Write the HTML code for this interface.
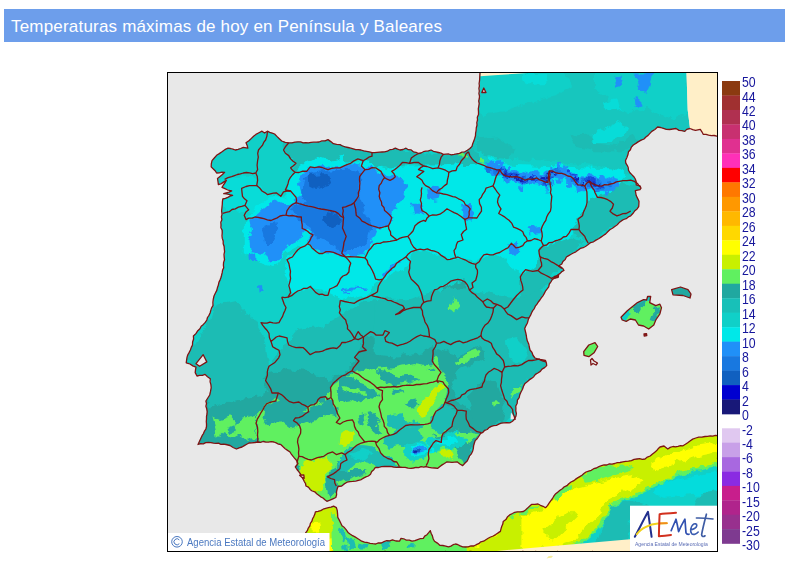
<!DOCTYPE html>
<html><head><meta charset="utf-8"><title>Temperaturas máximas</title>
<style>
html,body{margin:0;padding:0;background:#fff;}
body{width:785px;height:566px;position:relative;overflow:hidden;font-family:"Liberation Sans",sans-serif;}
.hd{position:absolute;left:4px;top:9px;width:781px;height:33px;background:#6D9EEB;color:#fff;font-size:17px;line-height:33px;}
.hd span{position:absolute;left:7px;top:0.5px;white-space:nowrap;letter-spacing:0.19px;}
.lb{position:absolute;left:742.2px;font-size:15px;line-height:16px;height:16px;color:#16169C;white-space:nowrap;transform-origin:0 50%;transform:scaleX(0.82);}
.cp{position:absolute;left:187.3px;top:534.5px;font-size:10.5px;line-height:14px;color:#4A78C0;white-space:nowrap;transform-origin:0 50%;transform:scaleX(0.909);}
.lg{position:absolute;left:634.5px;top:539.5px;font-size:6px;line-height:8px;color:#5A6CB4;white-space:nowrap;transform-origin:0 50%;transform:scaleX(0.84);}
</style></head><body>
<div class="hd"><span>Temperaturas máximas de hoy en Península y Baleares</span></div>
<svg width="785" height="566" viewBox="0 0 785 566" style="position:absolute;left:0;top:0">
<defs>
<clipPath id="cm"><rect x="167.5" y="72.5" width="550" height="479"/></clipPath>
<clipPath id="cib"><polygon points="211.2,166.9 212,160.7 216.6,155.3 222,151.8 228,148.2 235.3,150 243.3,147.3 247.8,148.2 246,142.8 251.4,138.4 258.5,133 262,131.2 264.5,133 267.4,131.2 274.6,134 281.7,141 288.8,142.8 298,141.8 308.4,142.8 319,142 328,139.6 333.4,143.7 340,144.6 350.7,148.2 361,150 372,152.6 384.6,151.8 395.3,148.2 400,150 406,148.2 418.5,153.5 431,150 443.4,154.4 454,154.4 464.8,151.8 472,146.4 475.5,135.7 477.5,120 478.8,106 479.8,76 480,72.5 686.5,72.5 687.7,110 690,128.5 686.7,129.4 684.8,131.4 679,130.4 676,128.5 666.3,129.4 657.6,127 651.8,131.4 644,139 633.3,145 628.5,151.8 625.5,160.5 628.5,170.2 635.3,179 636.2,184.8 640,185.8 641,188.2 640,189.6 635.3,190.6 636.2,195.5 639,201.3 638.7,206.6 633.3,213 630.7,215.8 619.2,222.6 607.7,231.8 598.6,238.7 588.2,244.5 577.9,250.2 566.4,257 561.8,264 558.6,266 563,268.7 564,270.5 557.7,275 552.4,279.4 547,289.2 539.9,300 532.7,310.6 528.3,319.6 524.7,328.5 527.4,341 530,350 535,358 545.5,360.5 546.7,365.6 537.8,373 525,383.4 521,392 515.8,406 516,416 514.5,419 510,422.8 503.8,422.8 491.3,426.4 480.6,433.5 475.2,440.6 472.6,451.3 467.2,461 462.7,465.6 457.4,462 446.7,462 437.8,468.3 426.2,466.5 411,468.3 399.4,467 387.8,466.5 375.4,467.4 373.8,469.7 368.4,476 361.3,479.5 347,482.2 341.7,486 338,486.5 336.5,492 335.8,497.5 326.9,501.3 316.7,493.7 306,486 304.2,481.3 300.6,474.2 295.3,467 298,463.5 296.2,460 290,452 281,444.7 273.9,442 257.8,442 249,443 242,447 236.4,449 230,445.5 226,444.5 208.4,442.5 198,444.5 201,438 205.9,429 207,414 205.9,401 209.7,395 211.2,387.7 210.3,378.8 205,374.4 197,376 195.2,372.6 196,367.2 190,364 186.2,362.8 187,357.4 192.5,345 193.4,336 197.8,330.7 206.8,320 213,305.7 214,296 217.5,287.4 223.7,267.8 224.6,251.7 221,225 222,214.3 222,207 222.8,199 232.6,195.4 223.7,193.7 231.7,191 222,187.4 226.4,180.3 218.4,184.7 217.5,178.5 224.6,172.3 216.6,173"/><polygon points="621,317.3 627.3,310.8 637.5,302.6 643.6,299.6 646.6,300 647.6,296.5 650.7,296.5 649.7,302.6 655.8,305.7 659.9,304.2 661.5,307.7 659.9,313.8 655.8,320 653.8,325 648.7,329 643.6,326 638.5,325 635.4,320 630.3,319 626.2,321.4 622.2,320"/><polygon points="671.6,289.7 680.5,287 688,289.7 691,294 690,298 683,295.5 673,294.8"/><polygon points="583.7,351.6 588.8,345 595,342.6 597.7,346.5 594,352.8 588.8,356.7 584,355.4"/></clipPath>
<clipPath id="caf"><polygon points="315.4,511.8 333.6,506.2 336.4,507.6 337.8,517.4 342,525.8 350.4,534.2 361.7,541.2 375.7,544 392.5,539.8 399.5,541.2 401,538.4 412,541.2 423.3,538.4 430.3,530.6 434.5,541.2 440,545.4 448.5,546.8 455.5,544 462.6,546.8 473.8,546 490.6,537 500.4,531.4 503.2,521.6 510.2,514.6 517.2,511.8 523.4,511.5 531.5,504.4 538,504 545.5,507.7 555.7,493.7 571,482 586,472 601.5,465.7 620,462.5 637,459 645,459 652.5,454 660,447 664,446 667.8,449 673,446.5 683,445.8 690,441 695.8,438 705,436.5 718,435.6 718,552 305,552 305.6,532.8 309.8,525.8"/></clipPath>
<filter id="jg" x="150" y="55" width="590" height="515" filterUnits="userSpaceOnUse" color-interpolation-filters="sRGB"><feTurbulence type="fractalNoise" baseFrequency="0.11" numOctaves="3" seed="4" result="n"/><feDisplacementMap in="SourceGraphic" in2="n" scale="9" xChannelSelector="R" yChannelSelector="G"/></filter>
</defs>
<rect x="167" y="72" width="551" height="480" fill="#E8E8E8"/>
<g clip-path="url(#cm)">
<g clip-path="url(#cib)"><g filter="url(#jg)">
<rect x="140" y="45" width="610" height="540" fill="#10D0C8"/>
<polygon points="465,72 718,72 718,175 640,180 600,165 520,160 465,150" fill="#17C6BE" />
<polygon points="479.6,70 562.5,70 572.2,86.2 556,96 530,102.5 504,112.2 484.5,115.5 478,109" fill="#10D0C8" />
<polygon points="520.2,73.9 549.5,73.9 546.2,83 526.7,84.6" fill="#08DCD8" />
<polygon points="595,70 685.9,70 690.8,112.2 672.9,118.7 646.9,109 627.4,112.2 611.2,102.5 595,89.5" fill="#10D0C8" />
<polygon points="591.7,135 604.7,128.5 617.7,122 627.4,126.9 624.2,135 611.2,143.1 595,143.1" fill="#08DCD8" />
<polygon points="601.5,102.5 617.7,99.2 620.9,109 607.9,112.2" fill="#08DCD8" />
<polygon points="569,135 588.5,133.4 595,143.1 614.4,146.3 633.9,135 640.4,144.7 620.9,151.2 595,151.2 575.5,146.3" fill="#1CBCB4" />
<polygon points="478,138.2 497.5,136.6 513.7,148 510.5,159.3 491,157.7 478,151.2" fill="#1CBCB4" />
<polygon points="614.4,78.1 622.6,76.5 624.2,84.6 617.7,86.2" fill="#2090F8" />
<polygon points="632.3,72.6 653.4,72.6 650.2,81.4 646.9,92.7 638.8,89.5 640.4,81.4" fill="#2090F8" />
<polygon points="633.9,99.2 640.4,97.6 640.4,105.7 634.6,105.7" fill="#2090F8" />
<polygon points="284,141 305,141 328,139 345,144 373,152 395,148 419,153 449,154.5 472,146 480,160 470,168 452,171 440,168 424,166 411,162 399,166 385,168 363,166 358,159 340,166 328,169 319,166 310,166 306,171 296,172 291,166 296,163 290,158 283,150" fill="#1CBCB4" />
<polygon points="294.2,171.4 304.9,160.7 319.1,157.1 329.8,160.7 345,155.3 345,167.8 328.1,171.4 312,169.6 304.9,174.9 299.5,183.9 290.6,191 287,185.6" fill="#00E8E8" />
<polygon points="222.8,178.5 240.7,174.9 256.7,176.7 258.5,185.6 267.4,194.6 279.9,196.3 294.2,192.8 301.3,199.9 294.2,203.5 283.5,207 269.2,199.9 263.9,205.3 254.9,210.6 246,214.2 237.1,210.6 226.4,210.6 221.9,203.5" fill="#08DCD8" />
<polygon points="387.3,168.7 400,165.5 419.1,165.5 438.2,165.5 463.7,163.9 482.8,163.9 622.9,168.7 622.9,194.1 597.5,203.7 584.7,216.4 578.3,229.2 565.6,238.7 540.1,248.3 536.9,267.4 521,273.8 495.5,254.6 473.2,261 447.8,257.8 425.5,251.5 406.4,248.3 390.4,264.2 377.7,280.1 361.8,283.3 361.8,235.5 371.3,219.6" fill="#00E8E8" />
<polygon points="578.3,219.6 591.1,197.3 603.8,194.1 622.9,181.4 642,187.8 642,203.7 622.9,219.6 603.8,232.4 587.9,245.1 572,229.2" fill="#1CBCB4" />
<polygon points="540.1,248.3 565.6,238.7 584.7,241.9 565.6,257.8 552.9,273.8 540.1,292.9 527.4,319.9 505.1,319.9 521,292.9 521,273.8 536.9,267.4" fill="#1CBCB4" />
<polygon points="489,158.5 493,159.7 499.8,160.8 504.4,166.6 515.9,167.7 525.1,171.2 536.6,168.9 548,173.5 549.2,164 561.8,164.3 571,167.7 577.9,175.8 584.8,176.9 589.4,172.3 598.6,176.9 607.7,175.8 614,174 614,192 607.7,193.8 598.6,194.9 589.4,190.3 584.8,194.9 577.9,193.8 571,185.7 561.8,182.3 549.2,182 548,191.5 536.6,186.9 525.1,189.2 515.9,185.7 504.4,184.6 499.8,178.8 493,177.7 489,176.5" fill="#00E8E8" />
<polygon points="485,167.5 489,161.529 493,163.247 499.8,162.847 504.4,170.383 515.9,170.092 525.1,174.103 536.6,172.726 548,175.978 549.2,167.888 561.8,166.999 571,171.49 577.9,179.528 584.8,179.626 589.4,173.819 598.6,180.529 607.7,179.13 614,176.118 619,183 614,190.791 607.7,191.108 598.6,191.487 589.4,189.205 584.8,190.086 577.9,192.234 571,181.858 561.8,177.877 549.2,177.471 548,187.734 536.6,185.165 525.1,184.923 515.9,183.026 504.4,182.156 499.8,175.29 493,174.891 489,171.751" fill="#2090F8" />
<polygon points="493.5,172 496.8,172 496.8,174.7 493.5,174.7" fill="#2090F8" />
<polygon points="558.7,168.3 563.1,168.3 563.1,171.7 558.7,171.7" fill="#2090F8" />
<polygon points="519.4,177.9 524.1,177.9 524.1,181.4 519.4,181.4" fill="#2090F8" />
<polygon points="529.5,171.3 532.7,171.3 532.7,174.8 529.5,174.8" fill="#2090F8" />
<polygon points="506,165.9 510,165.9 510,169.5 506,169.5" fill="#2090F8" />
<polygon points="560.4,168.6 564.5,168.6 564.5,171.8 560.4,171.8" fill="#2090F8" />
<polygon points="557.6,178.8 562.5,178.8 562.5,181.7 557.6,181.7" fill="#2090F8" />
<polygon points="566.2,179.9 570.2,179.9 570.2,183.9 566.2,183.9" fill="#2090F8" />
<polygon points="585.7,178.6 589.7,178.6 589.7,180.7 585.7,180.7" fill="#2090F8" />
<polygon points="544.7,170.5 546.9,170.5 546.9,174 544.7,174" fill="#2090F8" />
<polygon points="500.5,173 505.1,173 505.1,175.1 500.5,175.1" fill="#2090F8" />
<polygon points="546.4,186.7 550.8,186.7 550.8,190.5 546.4,190.5" fill="#2090F8" />
<polygon points="522.9,175.9 527.5,175.9 527.5,179.8 522.9,179.8" fill="#2090F8" />
<polygon points="504,169.9 506.7,169.9 506.7,172.8 504,172.8" fill="#2090F8" />
<polygon points="558.2,163 561.5,163 561.5,165.7 558.2,165.7" fill="#2090F8" />
<polygon points="560.3,175.7 563.8,175.7 563.8,179 560.3,179" fill="#2090F8" />
<polygon points="567.1,185.1 571.5,185.1 571.5,188.8 567.1,188.8" fill="#2090F8" />
<polygon points="584.9,180.7 587.2,180.7 587.2,184 584.9,184" fill="#2090F8" />
<polygon points="493.1,163.1 495.6,163.1 495.6,165.8 493.1,165.8" fill="#2090F8" />
<polygon points="491.3,161.8 493.6,161.8 493.6,164.5 491.3,164.5" fill="#2090F8" />
<polygon points="494.3,170 496.8,170 496.8,172.5 494.3,172.5" fill="#2090F8" />
<polygon points="532.4,169.4 536.9,169.4 536.9,173.4 532.4,173.4" fill="#2090F8" />
<polygon points="547.2,169.7 549.5,169.7 549.5,172.4 547.2,172.4" fill="#2090F8" />
<polygon points="525.6,171.9 527.6,171.9 527.6,175.8 525.6,175.8" fill="#2090F8" />
<polygon points="549,172.9 551.1,172.9 551.1,175.9 549,175.9" fill="#2090F8" />
<polygon points="612.5,186.7 615.3,186.7 615.3,189.5 612.5,189.5" fill="#2090F8" />
<polygon points="510.3,176 514.6,176 514.6,178.6 510.3,178.6" fill="#2090F8" />
<polygon points="518.5,185.5 523.1,185.5 523.1,189.1 518.5,189.1" fill="#2090F8" />
<polygon points="589.2,175.6 592.7,175.6 592.7,178.3 589.2,178.3" fill="#2090F8" />
<polygon points="487.9,163.3 490.7,163.3 490.7,166.7 487.9,166.7" fill="#2090F8" />
<polygon points="605,191.6 610,191.6 610,195.5 605,195.5" fill="#2090F8" />
<polygon points="534.6,172.6 537.2,172.6 537.2,175 534.6,175" fill="#2090F8" />
<polygon points="568,180.4 571.5,180.4 571.5,183.7 568,183.7" fill="#2090F8" />
<polygon points="581.4,185.4 586.1,185.4 586.1,188.9 581.4,188.9" fill="#2090F8" />
<polygon points="578.5,178.3 582.9,178.3 582.9,181 578.5,181" fill="#2090F8" />
<polygon points="589.4,180.1 592.6,180.1 592.6,183.9 589.4,183.9" fill="#2090F8" />
<polygon points="573.6,175.8 576,175.8 576,179.6 573.6,179.6" fill="#2090F8" />
<polygon points="582.5,187.9 587.5,187.9 587.5,191.3 582.5,191.3" fill="#2090F8" />
<polygon points="535.5,169.5 537.6,169.5 537.6,173.4 535.5,173.4" fill="#2090F8" />
<polygon points="568.6,183.2 571.9,183.2 571.9,187 568.6,187" fill="#2090F8" />
<polygon points="586.2,176.1 589.1,176.1 589.1,178.6 586.2,178.6" fill="#2090F8" />
<polygon points="558.2,170.3 560.6,170.3 560.6,174.2 558.2,174.2" fill="#2090F8" />
<polygon points="534,178.6 538.7,178.6 538.7,181.4 534,181.4" fill="#2090F8" />
<polygon points="600.5,185.5 604.1,185.5 604.1,187.6 600.5,187.6" fill="#2090F8" />
<polygon points="543.3,172 547.7,172 547.7,174.4 543.3,174.4" fill="#2090F8" />
<polygon points="549,177.3 551.9,177.3 551.9,180.4 549,180.4" fill="#2090F8" />
<polygon points="557.3,164.9 561,164.9 561,167.4 557.3,167.4" fill="#2090F8" />
<polygon points="526,179 529.7,179 529.7,182.5 526,182.5" fill="#2090F8" />
<polygon points="599.3,186.7 602.8,186.7 602.8,189.7 599.3,189.7" fill="#2090F8" />
<polygon points="572.3,179.9 575.8,179.9 575.8,183.8 572.3,183.8" fill="#2090F8" />
<polygon points="576.7,188.8 579.4,188.8 579.4,191.9 576.7,191.9" fill="#2090F8" />
<polygon points="607.5,177.2 609.9,177.2 609.9,180.1 607.5,180.1" fill="#2090F8" />
<polygon points="495.3,160.3 499.3,160.3 499.3,163.9 495.3,163.9" fill="#2090F8" />
<polygon points="594.5,189.3 598.5,189.3 598.5,191.6 594.5,191.6" fill="#2090F8" />
<polygon points="598.7,179.1 603.5,179.1 603.5,181.8 598.7,181.8" fill="#2090F8" />
<polygon points="551.6,180.7 554.1,180.7 554.1,183.5 551.6,183.5" fill="#2090F8" />
<polygon points="548.3,166 551.2,166 551.2,169.5 548.3,169.5" fill="#2090F8" />
<polygon points="491.1,166.4 493.2,166.4 493.2,169 491.1,169" fill="#2090F8" />
<polygon points="564.1,165.5 569.1,165.5 569.1,169.1 564.1,169.1" fill="#2090F8" />
<polygon points="605.8,178.4 607.9,178.4 607.9,182 605.8,182" fill="#2090F8" />
<polygon points="519.4,177.3 524.2,177.3 524.2,180.9 519.4,180.9" fill="#2090F8" />
<polygon points="518.5,186.2 522.2,186.2 522.2,189.6 518.5,189.6" fill="#2090F8" />
<polygon points="495.9,174.4 499.1,174.4 499.1,176.5 495.9,176.5" fill="#2090F8" />
<polygon points="605.2,189.5 607.5,189.5 607.5,193.2 605.2,193.2" fill="#2090F8" />
<polygon points="499.9,167.7 502.9,167.7 502.9,170.8 499.9,170.8" fill="#2090F8" />
<polygon points="599.9,177.5 603.5,177.5 603.5,180 599.9,180" fill="#2090F8" />
<polygon points="498.8,164.3 501.4,164.3 501.4,166.9 498.8,166.9" fill="#2090F8" />
<polygon points="530,174.6 533.5,174.6 533.5,177 530,177" fill="#2090F8" />
<polygon points="530.8,172.1 532.9,172.1 532.9,175.6 530.8,175.6" fill="#2090F8" />
<polygon points="551.3,172.1 556.1,172.1 556.1,174.3 551.3,174.3" fill="#2090F8" />
<polygon points="586.4,180.2 590.9,180.2 590.9,183 586.4,183" fill="#1878E0" />
<polygon points="549.3,176 552.4,176 552.4,179.7 549.3,179.7" fill="#1878E0" />
<polygon points="575,180.3 578.1,180.3 578.1,182.4 575,182.4" fill="#1878E0" />
<polygon points="500.9,176.9 503.7,176.9 503.7,179.2 500.9,179.2" fill="#1878E0" />
<polygon points="500.6,173.2 504.6,173.2 504.6,175.8 500.6,175.8" fill="#1878E0" />
<polygon points="518.4,176.7 520.9,176.7 520.9,179.6 518.4,179.6" fill="#1878E0" />
<polygon points="524.7,183.2 528.4,183.2 528.4,185.7 524.7,185.7" fill="#1878E0" />
<polygon points="607,181.6 609,181.6 609,184.3 607,184.3" fill="#1878E0" />
<polygon points="546.9,173.1 550.5,173.1 550.5,175.1 546.9,175.1" fill="#1878E0" />
<polygon points="520.4,177.7 522.5,177.7 522.5,179.8 520.4,179.8" fill="#1878E0" />
<polygon points="526.2,178.4 529.8,178.4 529.8,181.9 526.2,181.9" fill="#1878E0" />
<polygon points="570.8,179.3 574,179.3 574,181.9 570.8,181.9" fill="#1878E0" />
<polygon points="607.8,184.8 611.7,184.8 611.7,186.9 607.8,186.9" fill="#1878E0" />
<polygon points="591.4,181.6 595.6,181.6 595.6,185.3 591.4,185.3" fill="#1878E0" />
<polygon points="504.2,174 508.7,174 508.7,177.6 504.2,177.6" fill="#1878E0" />
<polygon points="588.5,183.8 592.5,183.8 592.5,187.2 588.5,187.2" fill="#1878E0" />
<polygon points="514.9,173.2 517.9,173.2 517.9,175.4 514.9,175.4" fill="#1878E0" />
<polygon points="589.6,181.8 593.5,181.8 593.5,185.2 589.6,185.2" fill="#1878E0" />
<polygon points="543.8,176.5 548.1,176.5 548.1,179.5 543.8,179.5" fill="#1878E0" />
<polygon points="552.7,167.5 556.9,167.5 556.9,170 552.7,170" fill="#1878E0" />
<polygon points="496.9,170.3 499.5,170.3 499.5,173.8 496.9,173.8" fill="#1878E0" />
<polygon points="608.8,181.1 612.3,181.1 612.3,184.5 608.8,184.5" fill="#1878E0" />
<polygon points="582.9,185.9 585.1,185.9 585.1,188.2 582.9,188.2" fill="#1878E0" />
<polygon points="522.1,176.2 525.8,176.2 525.8,178.3 522.1,178.3" fill="#1878E0" />
<polygon points="494.2,169.5 498.3,169.5 498.3,172.8 494.2,172.8" fill="#1878E0" />
<polygon points="526.1,178.2 529.5,178.2 529.5,180.5 526.1,180.5" fill="#1878E0" />
<polygon points="594.6,189.6 599.4,189.6 599.4,191.7 594.6,191.7" fill="#1878E0" />
<polygon points="548.6,182.8 552,182.8 552,185.3 548.6,185.3" fill="#1878E0" />
<polygon points="517.3,172.9 521,172.9 521,175.2 517.3,175.2" fill="#1878E0" />
<polygon points="552.7,167.9 557.2,167.9 557.2,170.9 552.7,170.9" fill="#1878E0" />
<polygon points="596.8,181.4 601.5,181.4 601.5,184.3 596.8,184.3" fill="#1878E0" />
<polygon points="487.8,167.2 491.2,167.2 491.2,169.8 487.8,169.8" fill="#1878E0" />
<polygon points="503.3,173 507.8,173 507.8,175 503.3,175" fill="#1878E0" />
<polygon points="580.6,179.8 585.4,179.8 585.4,183.2 580.6,183.2" fill="#1878E0" />
<polygon points="597.1,182.5 600.3,182.5 600.3,186.5 597.1,186.5" fill="#1878E0" />
<polygon points="559.5,171.5 562.3,171.5 562.3,173.6 559.5,173.6" fill="#1878E0" />
<polygon points="501.8,169.4 506.6,169.4 506.6,171.9 501.8,171.9" fill="#1878E0" />
<polygon points="522.6,174.8 525.7,174.8 525.7,178.7 522.6,178.7" fill="#1878E0" />
<polygon points="597,184.7 601.8,184.7 601.8,188.6 597,188.6" fill="#1878E0" />
<polygon points="555.1,167.2 559.3,167.2 559.3,170.1 555.1,170.1" fill="#1878E0" />
<polygon points="581,181.3 583.2,181.3 583.2,185.1 581,185.1" fill="#1878E0" />
<polygon points="502.9,172.3 505.8,172.3 505.8,175.8 502.9,175.8" fill="#1878E0" />
<polygon points="607.8,184 610.7,184 610.7,187.1 607.8,187.1" fill="#1878E0" />
<polygon points="538.8,174.9 541.5,174.9 541.5,178.7 538.8,178.7" fill="#1878E0" />
<polygon points="544.9,176.5 549.9,176.5 549.9,179.4 544.9,179.4" fill="#1878E0" />
<polygon points="502.9,170.6 506,170.6 506,172.8 502.9,172.8" fill="#1878E0" />
<polygon points="516.7,177.4 521.4,177.4 521.4,180.9 516.7,180.9" fill="#1878E0" />
<polygon points="542.6,180.1 545.7,180.1 545.7,182.7 542.6,182.7" fill="#1878E0" />
<polygon points="495.3,172.7 497.7,172.7 497.7,175.7 495.3,175.7" fill="#1878E0" />
<polygon points="568.1,171.2 570.9,171.2 570.9,173.7 568.1,173.7" fill="#1878E0" />
<polygon points="540.3,183.1 544.8,183.1 544.8,186.8 540.3,186.8" fill="#1878E0" />
<polygon points="486.9,169 491.6,169 491.6,172 486.9,172" fill="#1878E0" />
<polygon points="556.1,170.4 560.9,170.4 560.9,174 556.1,174" fill="#1878E0" />
<polygon points="595.5,179.8 597.8,179.8 597.8,182.1 595.5,182.1" fill="#1878E0" />
<polygon points="551,175.8 555.2,175.8 555.2,179.1 551,179.1" fill="#1878E0" />
<polygon points="581.7,184.3 583.8,184.3 583.8,187.9 581.7,187.9" fill="#1878E0" />
<polygon points="520.6,178.4 523.6,178.4 523.6,180.7 520.6,180.7" fill="#1878E0" />
<polygon points="521.9,180 524.2,180 524.2,182.2 521.9,182.2" fill="#1878E0" />
<polygon points="551.5,170.4 554.1,170.4 554.1,173.6 551.5,173.6" fill="#1878E0" />
<polygon points="486.8,165.9 491.7,165.9 491.7,169.2 486.8,169.2" fill="#1878E0" />
<polygon points="591.1,179.4 593.6,179.4 593.6,182.3 591.1,182.3" fill="#1848D8" />
<polygon points="571.3,175.2 574.3,175.2 574.3,177.7 571.3,177.7" fill="#1848D8" />
<polygon points="543.8,181.9 547.7,181.9 547.7,183.7 543.8,183.7" fill="#1848D8" />
<polygon points="497.9,168.7 501.3,168.7 501.3,170.5 497.9,170.5" fill="#1848D8" />
<polygon points="583.1,184 585.5,184 585.5,186.9 583.1,186.9" fill="#1848D8" />
<polygon points="533.4,175.2 535.8,175.2 535.8,177.9 533.4,177.9" fill="#1848D8" />
<polygon points="531.8,177.8 534.2,177.8 534.2,179.6 531.8,179.6" fill="#1848D8" />
<polygon points="545.9,183.5 548.2,183.5 548.2,185.5 545.9,185.5" fill="#1848D8" />
<polygon points="521.7,175.2 523.8,175.2 523.8,176.8 521.7,176.8" fill="#1848D8" />
<polygon points="543.3,181.4 546.8,181.4 546.8,184.4 543.3,184.4" fill="#1848D8" />
<polygon points="595.5,182 599.3,182 599.3,184.7 595.5,184.7" fill="#1848D8" />
<polygon points="499.3,168.1 502.1,168.1 502.1,170.1 499.3,170.1" fill="#1848D8" />
<polygon points="512.1,173.5 514.8,173.5 514.8,176.4 512.1,176.4" fill="#1848D8" />
<polygon points="510,172.6 512.7,172.6 512.7,175.3 510,175.3" fill="#1848D8" />
<polygon points="584.3,180.4 587.3,180.4 587.3,182.5 584.3,182.5" fill="#1848D8" />
<polygon points="593.5,183 597.3,183 597.3,184.6 593.5,184.6" fill="#1848D8" />
<polygon points="545.8,182.2 547.9,182.2 547.9,183.8 545.8,183.8" fill="#1848D8" />
<polygon points="502.5,170 506,170 506,172.9 502.5,172.9" fill="#1848D8" />
<polygon points="534.3,179.8 537.6,179.8 537.6,181.7 534.3,181.7" fill="#1848D8" />
<polygon points="572.9,177.9 574.9,177.9 574.9,180.6 572.9,180.6" fill="#1848D8" />
<polygon points="595.8,186.5 597.9,186.5 597.9,188.3 595.8,188.3" fill="#1848D8" />
<polygon points="549.2,178.4 551.9,178.4 551.9,180.3 549.2,180.3" fill="#1848D8" />
<polygon points="546.7,183.6 549.1,183.6 549.1,186.4 546.7,186.4" fill="#1848D8" />
<polygon points="576.2,183.7 579.4,183.7 579.4,185.7 576.2,185.7" fill="#1848D8" />
<polygon points="532.7,179 534.9,179 534.9,180.8 532.7,180.8" fill="#1848D8" />
<polygon points="575.7,180.3 577.7,180.3 577.7,182.7 575.7,182.7" fill="#1848D8" />
<polygon points="535.1,179.5 539.1,179.5 539.1,181.4 535.1,181.4" fill="#1848D8" />
<polygon points="501,174.2 504.4,174.2 504.4,176.3 501,176.3" fill="#1848D8" />
<polygon points="521.4,178.8 524.8,178.8 524.8,181.4 521.4,181.4" fill="#1848D8" />
<polygon points="587.2,178.6 590.9,178.6 590.9,180.6 587.2,180.6" fill="#1848D8" />
<polygon points="555.8,173.6 558.2,173.6 558.2,175.4 555.8,175.4" fill="#1848D8" />
<polygon points="521.8,181.3 525,181.3 525,183.3 521.8,183.3" fill="#1848D8" />
<polygon points="544.5,179.2 547,179.2 547,182 544.5,182" fill="#1848D8" />
<polygon points="568.9,171.6 571.9,171.6 571.9,174.3 568.9,174.3" fill="#1848D8" />
<polygon points="588.2,178.8 590.8,178.8 590.8,180.5 588.2,180.5" fill="#1848D8" />
<polygon points="517.9,176.7 521.8,176.7 521.8,178.8 517.9,178.8" fill="#1848D8" />
<polygon points="588.4,178.5 592,178.5 592,181.4 588.4,181.4" fill="#1848D8" />
<polygon points="506.3,175.4 508.7,175.4 508.7,177.4 506.3,177.4" fill="#1848D8" />
<polygon points="509,173.2 512.2,173.2 512.2,175.7 509,175.7" fill="#1848D8" />
<polygon points="516,175.9 519.4,175.9 519.4,177.6 516,177.6" fill="#1848D8" />
<polygon points="530.7,179.4 533.8,179.4 533.8,181 530.7,181" fill="#1848D8" />
<polygon points="504.5,175.1 507.8,175.1 507.8,176.7 504.5,176.7" fill="#1848D8" />
<polygon points="514.2,174.8 516.8,174.8 516.8,176.7 514.2,176.7" fill="#1848D8" />
<polygon points="598.7,184.7 601.5,184.7 601.5,186.9 598.7,186.9" fill="#1848D8" />
<polygon points="591,179.3 593.4,179.3 593.4,181.8 591,181.8" fill="#1848D8" />
<polygon points="519.5,179 521.8,179 521.8,181.3 519.5,181.3" fill="#1420B0" />
<polygon points="546,180.2 547.9,180.2 547.9,181.7 546,181.7" fill="#1420B0" />
<polygon points="554.6,173.2 556.3,173.2 556.3,175.3 554.6,175.3" fill="#1420B0" />
<polygon points="540.7,177.1 542.8,177.1 542.8,179.1 540.7,179.1" fill="#1420B0" />
<polygon points="591.3,181.8 594.4,181.8 594.4,184.3 591.3,184.3" fill="#1420B0" />
<polygon points="518.5,179.1 522,179.1 522,181 518.5,181" fill="#1420B0" />
<polygon points="503.9,173.4 507.2,173.4 507.2,175.5 503.9,175.5" fill="#1420B0" />
<polygon points="582.1,185.5 584.1,185.5 584.1,187.4 582.1,187.4" fill="#1420B0" />
<polygon points="586.2,181.8 588.2,181.8 588.2,183.7 586.2,183.7" fill="#1420B0" />
<polygon points="549.6,169.9 551.6,169.9 551.6,172.1 549.6,172.1" fill="#1420B0" />
<polygon points="588.1,181.1 591.1,181.1 591.1,182.6 588.1,182.6" fill="#1420B0" />
<polygon points="583,184 585.6,184 585.6,186.2 583,186.2" fill="#1420B0" />
<polygon points="532.9,177.1 535.2,177.1 535.2,179.3 532.9,179.3" fill="#1420B0" />
<polygon points="546.8,176.5 549.5,176.5 549.5,178.5 546.8,178.5" fill="#1420B0" />
<polygon points="525.3,179.8 527.8,179.8 527.8,181.5 525.3,181.5" fill="#1420B0" />
<polygon points="546.4,173.9 548.7,173.9 548.7,175.5 546.4,175.5" fill="#1420B0" />
<polygon points="546.9,177.4 549.7,177.4 549.7,179 546.9,179" fill="#1420B0" />
<polygon points="574.8,179.6 576.4,179.6 576.4,181.6 574.8,181.6" fill="#1420B0" />
<polygon points="542.3,177.1 545.5,177.1 545.5,179.6 542.3,179.6" fill="#1420B0" />
<polygon points="573.8,178.2 577.3,178.2 577.3,180.2 573.8,180.2" fill="#1420B0" />
<polygon points="597.2,182.3 600.2,182.3 600.2,184.7 597.2,184.7" fill="#1420B0" />
<polygon points="504.3,175 506.1,175 506.1,177.4 504.3,177.4" fill="#1420B0" />
<polygon points="530.2,176 532.7,176 532.7,178.4 530.2,178.4" fill="#1420B0" />
<polygon points="520.9,178 523,178 523,179.6 520.9,179.6" fill="#1420B0" />
<polygon points="517.2,178.2 520,178.2 520,180.6 517.2,180.6" fill="#1420B0" />
<polygon points="517.7,174.4 520.2,174.4 520.2,176.6 517.7,176.6" fill="#1420B0" />
<polygon points="540.3,178 543,178 543,180.4 540.3,180.4" fill="#1420B0" />
<polygon points="510.8,175 513,175 513,177.3 510.8,177.3" fill="#1420B0" />
<polygon points="400,176.6 404.8,178.2 404.8,194.1 400,195.7" fill="#2090F8" />
<polygon points="427.1,187.8 441.4,186.2 438.2,198.9 428.7,200.5" fill="#2090F8" />
<polygon points="411.1,203.7 422.3,203.7 425.5,214.8 412.7,213.2" fill="#2090F8" />
<polygon points="462.1,203.7 471.7,205.3 473.2,219.6 463.7,218" fill="#2090F8" />
<polygon points="527.4,227.6 540.1,226 541.7,233.9 530.6,235.5" fill="#2090F8" />
<polygon points="508.3,243.5 516.2,241.9 519.4,253.1 509.9,254.6" fill="#2090F8" />
<polygon points="447.8,305.6 457.3,297.6 460.5,305.6 454.1,313.6" fill="#60F060" />
<polygon points="457.3,153.4 466.9,153.4 467.5,156.6 458,156.6" fill="#60F060" />
<polygon points="478,157.5 486,158.5 485.4,163.9 478.7,162.9" fill="#60F060" />
<polygon points="287.4,182.1 305.8,163.8 340.2,162.6 367.7,162.6 390.7,171.8 411.4,175.3 413.7,191.3 404.5,207.4 395.3,223.5 388.4,232.6 379.2,251 363.1,262.5 340.2,260.2 314.9,253.3 298.9,246.4 285.1,253.3 273.6,267.1 264.4,264.8 243.8,253.3 243.8,223.5 255.3,207.4 273.6,194.8 287.4,199.4" fill="#00E8E8" />
<polygon points="300,179.8 305.8,169.5 321.8,166.1 337.9,167.2 354,164.9 365.4,167.2 376.9,169.5 386.1,177.5 395.3,176.4 404.5,178.7 405.6,189 399.9,202.8 394.1,209.7 390.7,218.9 388.4,226.9 376.9,229.2 370,246.4 362,256.7 349.4,256.7 340.2,255.6 326.4,252.2 314.9,248.7 308.1,240.7 311.5,232.6 305.8,230.3 298.9,240.7 287.4,246.4 279.4,257.9 269,262.5 264.4,253.3 250.7,251 249.5,241.8 253,228.1 248.4,221.2 257.5,214.3 264.4,207.4 273.6,199.4 282.8,203.9 290.8,203.9 296.6,199.4 301.2,192.5 298.9,184.4" fill="#2090F8" />
<polygon points="340,167.8 350.7,163.3 363.2,166 375.7,167.8 384.6,176.7 393.5,180.3 402.4,178.5 406,183.9 398.9,196.3 397.1,208.8 389.9,210.6 393.5,217.7 388.2,225.9 340,225.9" fill="#2090F8" />
<polygon points="303.5,179.8 310.3,173 326.4,170.7 349.4,169.5 360.9,173 358.6,195.9 365.4,212 372.3,225.8 367.7,241.8 358.6,251 344.8,251 331,244.1 317.2,237.2 308.1,225.8 296.6,218.9 289.7,209.7 296.6,203.9 305.8,202.8 301.2,191.3" fill="#1878E0" />
<polygon points="262.1,228.1 275.9,221.2 278.2,230.3 271.3,244.1 264.4,244.1" fill="#1878E0" />
<polygon points="326.4,212 337.9,214.3 339,223.5 331,226.9 324.1,221.2" fill="#1060C0" />
<polygon points="308.1,175.3 326.4,174.1 331,184.4 317.2,189 308.1,184.4" fill="#1060C0" />
<polygon points="287,256.7 303,247.8 322.7,253.2 344.1,256.7 369,253.2 390.4,240.7 411.8,249.6 408.2,267.4 394,272.8 379.7,281.7 365.4,294.2 340.5,299.5 326.2,292.4 308.4,287.1 292.3,294.2 285.2,279.9" fill="#00E8E8" />
<polygon points="215.7,304.9 233.5,301.3 251.3,315.6 263.8,337 269.2,365.5 283.4,347.7 297.7,329.9 322.7,326.3 340.5,315.6 365.4,301.3 394,297.8 426.1,304.9 443.9,287.1 465.3,279.9 465.3,347.7 429.6,337 408.2,344.1 386.8,335.2 365.4,337 358.3,354.8 347.6,370.9 329.8,379.8 308.4,370.9 287,369.1 269.2,372.7 251.3,386.9 226.4,397.6 206.7,401.2 194.3,372.7 187.1,354.8 205,329.9" fill="#1CBCB4" />
<polygon points="172.9,401.2 226.4,397.6 251.3,386.9 269.2,372.7 287,369.1 308.4,370.9 329.8,379.8 347.6,370.9 358.3,354.8 365.4,337 386.8,335.2 408.2,344.1 429.6,337 465.3,340.6 465.3,479.6 172.9,479.6" fill="#22A8A0" />
<polygon points="426.1,304.9 443.9,287.1 465.3,279.9 465.3,340.6 429.6,337 422.5,319.2" fill="#22A8A0" />
<polygon points="258,285.5 263,285 263.5,291 258.5,291.5" fill="#2090F8" />
<polygon points="248,254 255,253.5 255.5,260 249,260" fill="#2090F8" />
<polygon points="341,284 356,282 369,285 368,292 352,293 341,293" fill="#00E8E8" />
<polygon points="343,288 352,286.5 366,287.5 366,290 352,289.5 343,291" fill="#2090F8" />
<polygon points="343,292 350,292 350,294 343,294.5" fill="#2090F8" />
<polygon points="380,274 392,262 401,257 403,260 394,267 383,278" fill="#00E8E8" />
<polygon points="383,274.5 392,265 399,260.5 400,262 393,267.5 385,276" fill="#2090F8" />
<polygon points="374.7,303.5 406.5,300.8 433,290.2 459.5,287.6 486,292.9 512.6,298.2 539.1,290.2 565.6,303.5 565.6,359.2 528.5,380.4 517.9,409.5 504.6,422.8 480.7,433.4 470.1,449.3 464.8,467.9 374.7,467.9" fill="#1CBCB4" />
<polygon points="364.1,353.9 395.9,356.5 417.1,353.9 433,345.9 448.9,353.9 459.5,356.5 480.7,345.9 486,353.9 472.8,364.5 459.5,369.8 451.6,383 456.9,398.9 464.8,409.5 480.7,417.5 486,430.7 475.4,441.3 467.5,462.6 464.8,467.9 364.1,467.9" fill="#22A8A0" />
<polygon points="467.5,396.3 486,377.7 496.6,383 504.6,404.2 502,420.1 486,430.7 472.8,420.1" fill="#22A8A0" />
<polygon points="504.6,340.6 517.9,338 528.5,351.2 523.2,364.5 512.6,361.8 507.3,351.2" fill="#10D0C8" />
<polygon points="211.5,380 265.2,380 267.9,393.4 243.7,398.8 222.2,404.2 208.8,409.5 206.1,396.1" fill="#1CBCB4" />
<polygon points="212.8,417.6 219.5,420.3 230.3,416.3 235.6,423 243.7,417.6 255.8,414.4 256.6,438 243.7,439.1 238.3,435 230.3,439.6 224.9,430.5 216.9,436.9 215.5,428.3" fill="#60F060" />
<polygon points="227.6,427 234.3,424.3 237,432.4 230.3,435" fill="#22A8A0" />
<polygon points="257.1,413.6 267.9,402.8 278.6,397.5 284,406.9 297.4,414.9 308.2,406.9 324.3,400.1 332.3,385.4 340.4,380 404.8,371.9 404.8,465.9 388.7,465.9 367.2,476.7 340.4,487.4 336.3,499.5 324.3,500.8 308.2,487.4 297.4,468.6 294.7,457.9 281.3,445.8 270.6,441.8 257.1,441.8" fill="#60F060" />
<polygon points="265.2,406.9 281.3,398.8 297.4,409.5 308.2,414.9 305.5,423 292,428.3 281.3,420.3 267.9,425.6 262.5,417.6" fill="#22A8A0" />
<polygon points="294.7,417.6 313.5,406.9 326.9,398.8 336.3,406.9 337.7,417.6 324.3,414.9 316.2,420.3 297.4,425.6" fill="#22A8A0" />
<polygon points="336.3,390.7 351.1,385.4 367.2,390.7 378,401.5 375.3,412.2 361.9,406.9 351.1,401.5 340.4,401.5" fill="#22A8A0" />
<polygon points="364.5,417.6 378,412.2 383.3,428.3 375.3,436.4 367.2,428.3" fill="#22A8A0" />
<polygon points="332.3,468.6 351.1,452.5 372.6,444.4 388.7,447.1 400,457.9 404.8,465.9 378,465.9 361.9,474 340.4,482 329.6,479.4" fill="#22A8A0" />
<polygon points="324.3,479.4 335,474 337.7,492.8 329.6,498.2" fill="#22A8A0" />
<polygon points="345.7,463.2 361.9,455.2 378,452.5 375.3,460.6 356.5,468.6" fill="#10D0C8" />
<polygon points="298.8,465.9 308.2,460.6 329.6,457.9 331,468.6 324.3,476.7 321.6,487.4 316.2,494.1 308.2,486.1 301.4,476.7" fill="#C8F000" />
<polygon points="339,433.7 351.1,428.3 355.1,437.7 343.1,447.1 337.7,443.1" fill="#C8F000" />
<polygon points="364.1,369.8 395.9,367.1 414.5,363.1 430.4,365.8 435.7,356.5 441,364.5 446.3,380.4 448.9,391 443.6,401.6 438.3,409.5 446.3,417.5 443.6,430.7 433,425.4 419.8,420.1 406.5,425.4 395.9,417.5 380,409.5 364.1,409.5" fill="#60F060" />
<polygon points="382.7,375.1 398.6,372.4 411.8,376.4 403.9,383 388,383" fill="#22A8A0" />
<polygon points="388,393.6 406.5,389.7 417.1,396.3 403.9,404.2 390.6,401.6" fill="#22A8A0" />
<polygon points="390.6,414.8 411.8,409.5 425.1,417.5 411.8,422.8 395.9,421.5" fill="#22A8A0" />
<polygon points="427.7,369.8 437,367.1 438.3,377.7 430.4,379" fill="#22A8A0" />
<polygon points="364.1,436 395.9,433.4 411.8,428.1 425.1,430.7 433,436 441,444 454.2,446.6 459.5,454.6 464.8,465.2 459.5,467.9 364.1,467.9" fill="#60F060" />
<polygon points="406.5,441.3 433,438.7 443.6,446.6 438.3,457.3 422.4,459.9 406.5,457.3" fill="#10D0C8" />
<polygon points="410.5,445.3 430.4,444 433,453.3 414.5,455.9" fill="#00E8E8" />
<polygon points="411.3,448.2 419.8,446.1 429,447.2 428.3,452.5 419.8,454.1 412.3,454.1" fill="#2090F8" />
<polygon points="413.4,449.8 419.8,448.5 422.4,449.8 420.3,452.5 413.9,452.7" fill="#1060C0" />
<polygon points="414.5,450.6 418.7,449.8 419,451.7 414.7,452.2" fill="#1420B0" />
<polygon points="380,441.3 395.9,438.7 403.9,446.6 395.9,457.3 380,454.6" fill="#22A8A0" />
<polygon points="433,449.3 441,448 442.3,457.3 434.3,459.9" fill="#10D0C8" />
<polygon points="456.9,361.8 467.5,353.9 478.1,349.9 480.7,352.5 470.1,359.2 459.5,365.8" fill="#60F060" />
<polygon points="508.6,393.6 517.9,387 523.2,383 521.8,389.7 512.6,397.6" fill="#60F060" />
<polygon points="494,402.9 499.3,402.1 499.8,405.6 494.5,406.4" fill="#60F060" />
<polygon points="417.1,406.9 427.7,398.9 437,387 442.3,385.7 441,396.3 433,406.9 425.1,414.8 419.8,413.5" fill="#C8F000" />
<polygon points="441,452 451.6,453.3 454.2,459.9 446.3,457.3" fill="#C8F000" />
<polygon points="459.5,430.7 472.8,432.1 470.1,444 459.5,441.3" fill="#60F060" />
<polygon points="340,380.7 350.7,373.6 361.4,370 439.9,370 447,380.7 448.8,393.2 443.4,402.1 432.7,416.4 429.2,423.5 439.9,425.3 447,421.7 450.6,427.1 441.7,434.2 432.7,436 425.6,441.3 429.2,453.8 439.9,450.3 447,453.8 454.1,461 439.9,464.5 429.2,470.9 340,470.9" fill="#60F060" />
<polygon points="340,377.1 350.7,377.1 361.4,384.3 375.7,389.6 378.3,398.5 366.8,396.8 359.6,403.9 350.7,400.3 340,402.1" fill="#22A8A0" />
<polygon points="343.6,386.1 356.1,389.6 366.8,392.3 365,395 354.3,394.1 343.6,390.5" fill="#60F060" />
<polygon points="366.8,412.8 375.7,411 379.2,418.2 375.7,425.3 382.8,432.4 375.7,434.2 368.5,427.1 366.8,419.9" fill="#22A8A0" />
<polygon points="357.8,416.4 363.2,414.6 365,423.5 359.6,425.3" fill="#22A8A0" />
<polygon points="375.7,370 386.4,371.8 398.9,377.1 411.3,375.4 420.3,378.9 407.8,382.5 393.5,384.3 381,378.9" fill="#22A8A0" />
<polygon points="406,402.1 414.9,400.3 418.5,404.8 409.6,407.5" fill="#22A8A0" />
<polygon points="391.7,389.6 400.6,387.8 402.4,392.3 393.5,394.1" fill="#22A8A0" />
<polygon points="386.4,416.4 397.1,414.6 404.2,419.9 414.9,421.7 423.8,423.5 418.5,428.9 407.8,427.1 398.9,430.6 391.7,428.9 388.2,423.5" fill="#1CBCB4" />
<polygon points="382.8,437.8 393.5,432.4 407.8,427.1 418.5,428.9 422,437.8 416.7,444.9 407.8,448.5 398.9,444.9 389.9,446.7 382.8,444.9" fill="#1CBCB4" />
<polygon points="404.2,444.9 414.9,440.4 425.6,444 430.1,450.3 424.7,459.2 413.1,461.8 404.2,455.6" fill="#10D0C8" />
<polygon points="408.7,446.7 416.7,444 425.6,446.7 427.4,452 420.3,456.5 411.3,455.6" fill="#00E8E8" />
<polygon points="411.3,448.5 418.5,445.8 425.6,448.5 423.8,452 416.7,453.8 411.7,452.9" fill="#2090F8" />
<polygon points="412.8,449.9 417.6,448.5 420.3,449.9 418.5,452 413.1,452.4" fill="#1060C0" />
<polygon points="413.5,450.6 417,449.7 417.4,451.3 413.8,451.9" fill="#1420B0" />
<polygon points="432.7,437.8 443.4,436 454.1,430.6 464.8,432.4 472,437.8 464.8,444.9 454.1,448.5 443.4,446.7 434.5,448.5 427.4,444.9" fill="#10D0C8" />
<polygon points="436.3,440.4 447,438.7 455.9,436.9 457.7,441.3 447,444 438.1,444.9" fill="#00E8E8" />
<polygon points="429.2,419.9 439.9,405.7 450.6,403.9 455.9,411 454.1,423.5 447,430.6 439.9,432.4 432.7,428.9" fill="#1CBCB4" />
<polygon points="340,453.8 350.7,448.5 361.4,444.9 375.7,446.7 381,453.8 391.7,459.2 397.1,466.3 375.7,466.3 366.8,461 357.8,462.7 347.1,470.9 340,470.9" fill="#1CBCB4" />
<polygon points="350.7,453.8 363.2,450.3 373.9,452.9 366.8,458.3 356.1,459.2" fill="#10D0C8" />
<polygon points="381,448.5 393.5,448.5 402.4,453.8 398.9,462.7 389.9,459.2" fill="#60F060" />
<polygon points="454.1,432.4 472,430.6 479.1,434.2 472,441.3 463.1,437.8" fill="#60F060" />
<polygon points="416.7,409.2 423.8,400.3 431,389.6 439.9,384.3 443.4,386.9 438.1,395 431,405.7 425.6,414.6 420.3,416.4" fill="#C8F000" />
<polygon points="439.9,452 450.6,448.5 454.1,455.6 447,459.2" fill="#C8F000" />
<polygon points="340,432.4 347.1,428.9 354.3,430.6 352.5,441.3 345.4,446.7 340,446.7" fill="#C8F000" />
<polygon points="447.5,307 450,303.5 452,305 453.5,300 456.5,297.5 457.5,302 460,304 456.5,309 454,313.5 451.5,311 449,310" fill="#60F060" />
<polygon points="630,306 665,300 665,332 625,332" fill="#60F060" />
<polygon points="631.3,309.7 641.5,300.6 644.6,302.6 640.5,310.8 634.4,312.8" fill="#22A8A0" />
<polygon points="653.8,307.7 659.9,306.3 658.9,313.8 654.8,322 651.7,321 654.2,313.8" fill="#22A8A0" />
<polygon points="668,285 694,285 694,300 668,300" fill="#22A8A0" />
<polygon points="580,340 600,340 600,358 580,358" fill="#60F060" />
</g></g>
<g clip-path="url(#caf)"><g filter="url(#jg)">
<rect x="140" y="45" width="610" height="540" fill="#60F060"/>
<polygon points="467.8,556.2 467.8,531.7 498.3,513.4 516.7,501.1 541.1,495 559.5,479.7 580.9,467.5 602.3,458.3 632.9,452.2 663.4,440 694,427.8 724.6,427.8 724.6,461.4 694,469 675.7,473.6 651.2,485.9 632.9,495 614.5,501.1 605.3,513.4 596.2,528.7 580.9,540.9 565.6,547 541.1,556.2" fill="#C8F000" />
<polygon points="475.4,547.6 489.2,537.2 504.5,525.6 525.9,516.4 544.2,508.8 556.4,498.1 571.7,488.9 596.2,482.8 617.6,478.2 639,475.2 645.1,482.8 626.7,490.4 608.4,499.6 599.2,513.4 587,525.6 574.8,540.9 556.4,547 510.6,548.5 492.2,550.7" fill="#FFFF00" />
<polygon points="651.2,462.9 669.5,453.8 694,446.1 724.6,441.5 724.6,450.7 694,456.8 669.5,466 654.3,470.6" fill="#FFFF00" />
<polygon points="541.1,531.7 559.5,516.4 571.7,510.3 577.8,516.4 565.6,528.7 553.4,540.9" fill="#C8F000" />
<polygon points="580.9,473.6 602.3,466 623.7,464.5 632.9,470.6 614.5,475.2 596.2,481.3 583.9,482.8" fill="#60F060" />
<polygon points="550.3,496.6 562.5,485.9 571.7,482.8 568.7,490.4 556.4,499.6" fill="#60F060" />
<polygon points="507.5,514.9 525.9,505.7 538.1,505.7 528.9,513.4 513.6,521" fill="#60F060" />
<polygon points="645.1,488.9 663.4,479.7 681.8,472.1 700.1,467.5 724.6,462 724.6,465.1 700.1,470.6 681.8,476.1 663.4,484.3 649.7,492" fill="#60F060" />
<polygon points="724.6,465.1 694,471.8 675.7,476.7 651.2,488.9 632.9,498.1 616,504.2 606.9,516.4 597.7,531.1 582.4,543.3 567.1,548.8 608.4,545.5 724.6,545.5" fill="#10D0C8" />
<polygon points="663.4,482.8 694,475.2 724.6,470.6 724.6,492 694,495 663.4,498.1 651.2,493.5" fill="#04DCDC" />
<polygon points="611.5,505.7 632.9,501.1 651.2,505.7 629.8,519.5 629.8,545.5 596.2,545.5 602.3,525.6" fill="#1CBCB4" />
<polygon points="700.1,493.5 724.6,490.4 724.6,507.3 694,507.3" fill="#1CBCB4" />
<polygon points="305.6,511.8 335,506.2 337.8,517.4 336.4,551.1 305.6,551.1" fill="#C8F000" />
<polygon points="326.6,537 336.4,535.6 337.8,551.1 325.2,551.1" fill="#FFFF00" />
<polygon points="311.2,523 319.6,521.6 320.2,531.4 311.8,532" fill="#FFFF00" />
<polygon points="330.8,511.8 337.8,517.4 339.2,551.1 332.2,551.1" fill="#60F060" />
<polygon points="339.2,527.2 344.8,530 346.2,539.8 342,541.2 339.2,534.2" fill="#1CBCB4" />
<polygon points="346.2,537 354.7,539.8 357.5,549.7 349,549.7" fill="#1CBCB4" />
<polygon points="360.3,542.6 368.7,544.9 367.3,550.5 361.1,550.5" fill="#1CBCB4" />
<polygon points="342,544 346.2,544.9 347.1,550.5 342.6,550.5" fill="#1CBCB4" />
<polygon points="381.3,543.2 389.7,542.1 389.1,546.8 381.8,547.7" fill="#1CBCB4" />
<polygon points="406.5,544.9 414.9,544 414.3,548.3 407.1,548.8" fill="#1CBCB4" />
<polygon points="496.2,537 507.4,528.6 521.4,523 521.4,531.4 507.4,537 499,542.6" fill="#FFFF00" />
<polygon points="479.4,542.6 496.2,534.2 504.6,523 521.4,511.8 521.4,551.1 479.4,551.1" fill="#C8F000" />
</g></g>
<polygon points="196,363.7 203.2,354.7 206.8,361.9 199.6,366.3" fill="#E8E8E8" />
<polygon points="511,412.5 515.5,419 510.5,419.5" fill="#F0E8E8" />
<polygon points="686.5,72.5 718,72.5 718,136.4 716.8,136.2 703.2,134.3 700.3,129.4 695.5,130.4 690,128.5 687.7,110" fill="#FFEFC8" />
<polygon points="480.3,72.8 531,72.8 498,75 480.3,76.2" fill="#FFEFC8" />
<polygon points="486,552 630,539.2 630,552" fill="#FFEFC8" />
<polygon points="481.8,92.5 483.8,88 486,92.5" fill="#F4E4E4" />
<g fill="none" stroke="#7E1414" stroke-width="1.3" stroke-linejoin="round">
<polyline points="690,128.5 686.7,129.4 684.8,131.4 681.9,130.7 679,130.4 676,128.5 672.8,129 669.6,129.5 666.3,129.4 663.5,128.4 660.6,127.5 657.6,127 654.9,129.5 651.8,131.4 649.9,133.4 648.1,135.4 645.9,137 644,139 641.1,140.1 638.4,141.6 635.9,143.4 633.3,145 631.4,147.1 630.4,149.7 628.5,151.8 627.9,154.8 626.8,157.7 625.5,160.5 625.8,163.1 627.2,165.3 628.2,167.6 628.5,170.2 629.9,172.7 631.8,174.6 633.8,176.7 635.3,179 636.2,181.8 636.2,184.8 640,185.8 641,188.2 640,189.6 635.3,190.6 636.2,195.5 637.6,198.4 639,201.3 638.9,204 638.7,206.6 637.1,208.9 634.9,210.7 633.3,213 630.7,215.8 628.3,216.9 626.2,218.7 623.6,219.5 621.3,220.9 619.2,222.6 617.2,224.8 614.8,226.5 612.4,228.3 609.8,229.7 607.7,231.8 605.7,233.9 603.3,235.5 601,237.1 598.6,238.7 596,240.1 593.5,241.8 590.6,242.6 588.2,244.5 585.8,246.3 583.2,247.7 580.3,248.4 577.9,250.2 575.8,251.8 573.3,253 571,254.3 568.7,255.6 566.4,257 565.2,259.6 562.9,261.4 561.8,264 558.6,266 561,267.1 563,268.7 564,270.5 561.7,271.7 559.9,273.6 557.7,275 555.4,277.6 552.4,279.4 550.9,281.8 549.3,284.1 548.7,286.9 547,289.2 545.4,291.2 544.2,293.6 542.9,295.8 541.3,297.8 539.9,300 538.3,302 537,304.2 535.3,306.2 534.3,308.6 532.7,310.6 531.6,312.8 530.6,315.2 529.3,317.3 528.3,319.6 527.5,322.7 526,325.6 524.7,328.5 525.3,331 525.9,333.5 526.4,336 526.7,338.5 527.4,341 528.7,343.9 529.3,347 530,350 532,352.5 533.1,355.5 535,358 537.6,358.8 540.2,359.5 542.8,360 545.5,360.5 546.4,363 546.7,365.6 544.6,367.6 542,369.1 540.3,371.4 537.8,373 535.4,374.4 533.7,376.7 531.5,378.4 529.2,379.9 527.2,381.7 525,383.4 523.5,386.2 522.5,389.2 521,392 519.8,394.7 519.2,397.7 517.4,400.2 517.2,403.3 515.8,406 515.9,408.5 515.8,411 516.4,413.5 516,416 514.5,419 512.5,421.2 510,422.8 506.9,422.6 503.8,422.8 501.2,423.2 498.8,424.1 496.4,425.4 493.8,425.6 491.3,426.4 489,427.6 487.2,429.5 484.7,430.3 482.9,432.3 480.6,433.5 479,436 477.3,438.5 475.2,440.6 474.3,443.2 473.6,445.9 473.3,448.6 472.6,451.3 471.4,453.8 469.5,455.9 468.4,458.5 467.2,461 464.8,463.2 462.7,465.6 459.9,464 457.4,462 454.7,462.1 452,462.3 449.4,462.1 446.7,462 444.4,463.5 442.1,464.9 439.9,466.5 437.8,468.3 434.9,468 431.9,467.8 429,467.3 426.2,466.5 423.7,467.2 421.1,466.7 418.6,467.7 416,467.4 413.5,468 411,468.3 408.1,468.2 405.2,467.3 402.3,467.3 399.4,467 396.5,467.4 393.6,467 390.7,466.4 387.8,466.5 384.7,466.4 381.6,466.6 378.5,467.5 375.4,467.4 373.8,469.7 371.7,471.5 370.5,474.2 368.4,476 365.9,476.9 363.5,478.1 361.3,479.5 358.5,480.3 355.7,481.1 352.8,481.4 349.9,481.6 347,482.2 344.2,483.9 341.7,486 338,486.5 337.1,489.2 336.5,492 336.6,494.8 335.8,497.5 332.9,498.8 329.9,500.1 326.9,501.3 324.9,499.8 323,498 320.7,496.8 318.7,495.2 316.7,493.7 314.8,491.8 312.2,491 310.1,489.4 308.4,487.2 306,486 305.5,483.5 304.2,481.3 303,478.9 301.7,476.6 300.6,474.2 298.9,471.8 297,469.5 295.3,467 298,463.5 296.2,460 294.5,458.1 292.9,456.2 291.3,454.2 290,452 287.6,450.4 285.2,448.7 283.1,446.8 281,444.7 278.5,444.2 276.2,442.9 273.9,442 271.2,441.6 268.5,442.1 265.9,442.1 263.2,441.5 260.5,442.4 257.8,442 254.9,442.5 252,442.8 249,443 246.7,444.3 244.3,445.6 242,447 239.1,447.8 236.4,449 233.1,447.5 230,445.5 226,444.5 223.5,444.1 220.9,444.3 218.5,443.2 215.9,443.4 213.4,443.2 210.9,442.6 208.4,442.5 205.7,442.7 203.3,443.9 200.5,443.7 198,444.5 199.5,441.3 201,438 202.1,435.7 203.5,433.5 204.5,431.1 205.9,429 206.5,426.5 206.5,424 206.3,421.5 206.5,419 206.5,416.5 207,414 207.2,411.4 206.7,408.8 205.9,406.2 206.5,403.6 205.9,401 207.8,398 209.7,395 210.5,391.4 211.2,387.7 210.9,384.7 210.1,381.8 210.3,378.8 207.5,376.8 205,374.4 202.4,375.3 199.6,375.3 197,376 195.2,372.6 195.5,369.9 196,367.2 192.8,365.9 190,364 186.2,362.8 186.6,360.1 187,357.4 187.8,354.8 189.2,352.4 190.4,350 191.3,347.4 192.5,345 192.6,342 193.6,339 193.4,336 195.9,333.6 197.8,330.7 199.9,328.8 201.2,326.2 203.4,324.4 205.3,322.4 206.8,320 207.5,317.5 209,315.3 210.1,312.9 210.8,310.4 211.6,307.9 213,305.7 212.9,302.4 213.3,299.2 214,296 215.3,293.2 216.8,290.4 217.5,287.4 218.4,285 218.9,282.4 220,280.1 220.9,277.7 221.6,275.2 222.2,272.7 222.6,270.1 223.7,267.8 223.4,265.1 223.6,262.4 224.5,259.8 224.2,257.1 224,254.4 224.6,251.7 224.3,249 224.1,246.3 223.2,243.7 223.2,241 222.3,238.4 222,235.7 222.2,233 222.2,230.3 220.9,227.7 221,225 220.8,222.3 221.9,219.7 221.4,216.9 222,214.3 221.6,210.7 222,207 222.3,204.3 222.4,201.6 222.8,199 225.4,198.4 227.8,197.4 230.1,196.2 232.6,195.4 229.7,194.7 226.8,193.8 223.7,193.7 226.4,192.8 229.1,192.1 231.7,191 229.1,190.5 226.7,189.5 224.4,188.3 222,187.4 223.4,185 225.1,182.7 226.4,180.3 223.8,181.9 221.3,183.6 218.4,184.7 218,181.6 217.5,178.5 220,176.5 222.4,174.5 224.6,172.3 221.9,172.2 219.3,172.9 216.6,173 215.1,170.7 213.1,168.8 211.2,166.9 211.3,163.8 212,160.7 214.3,158 216.6,155.3 219.3,153.6 222,151.8 224.8,149.7 228,148.2 230.5,148.5 232.9,149.2 235.3,150 238.1,149.4 240.7,148.5 243.3,147.3 247.8,148.2 247.2,145.4 246,142.8 248.9,140.8 251.4,138.4 253.6,136.3 255.9,134.4 258.5,133 262,131.2 264.5,133 267.4,131.2 269.7,132.3 272.2,133.1 274.6,134 276.9,136.4 279.3,138.7 281.7,141 285.2,142.3 288.8,142.8 291.9,142.9 294.9,142.1 298,141.8 300.6,141.8 303.2,142.8 305.8,142.6 308.4,142.8 311,142.3 313.7,142.2 316.3,142.1 319,142 321.9,140.9 325.1,140.9 328,139.6 330.8,141.6 333.4,143.7 336.7,144.4 340,144.6 342.5,146 345.2,146.8 348,147.5 350.7,148.2 353.2,148.9 355.8,149.6 358.4,149.7 361,150 363.7,150.8 366.5,151.3 369.3,151.8 372,152.6 374.5,152.7 377,152.4 379.6,152.2 382.1,152 384.6,151.8 387.4,151.2 389.9,149.7 392.7,149.4 395.3,148.2 397.6,149.2 400,150 403.1,149.5 406,148.2 408.3,149.7 411.2,149.9 413.3,151.8 416.1,152.3 418.5,153.5 421,153 423.4,151.7 425.9,151.2 428.5,150.8 431,150 433.3,151.3 435.9,151.8 438.5,152.5 441,153.2 443.4,154.4 446,154.2 448.7,154 451.4,154.8 454,154.4 456.7,153.9 459.5,153.4 462,152.2 464.8,151.8 467.4,150.3 469.9,148.5 472,146.4 472.7,143.7 473.8,141.1 474.7,138.4 475.5,135.7 475.6,133.1 476.1,130.5 476.3,127.8 477,125.3 476.8,122.6 477.5,120 477.3,117.2 478.5,114.4 478.5,111.6 478.3,108.8 478.8,106 479.2,103.5 478.7,101 479.3,98.5 479.5,96 478.9,93.5 479.3,91 478.9,88.5 479.4,86 479.1,83.5 479.5,81 479.7,78.5 479.8,76 480,72.5"/>
<polyline points="690,128.5 692.7,129.6 695.5,130.4 700.3,129.4 701.9,131.8 703.2,134.3 706,134.4 708.6,135.2 711.3,135.7 714.1,135.5 716.8,136.2 718,136.4"/>
<polygon points="644,334 646.5,333.6 646.8,335.6 644.2,336" fill="#8A1818" />
<polygon points="299.6,475.2 303.8,474.8 304.2,478.4 301.5,477" fill="#E8D8D8" />
<polygon points="554.5,276.5 558.6,275.4 558.2,277.4 555,278" fill="#A02020" />
<polygon points="621,317.3 627.3,310.8 637.5,302.6 643.6,299.6 646.6,300 647.6,296.5 650.7,296.5 649.7,302.6 655.8,305.7 659.9,304.2 661.5,307.7 659.9,313.8 655.8,320 653.8,325 648.7,329 643.6,326 638.5,325 635.4,320 630.3,319 626.2,321.4 622.2,320"/>
<polygon points="671.6,289.7 680.5,287 688,289.7 691,294 690,298 683,295.5 673,294.8"/>
<polygon points="583.7,351.6 588.8,345 595,342.6 597.7,346.5 594,352.8 588.8,356.7 584,355.4"/>
<polygon points="590.5,360 592,358.5 594,361 597.5,363 596,365 593,363.5 591,365"/>
<polygon points="196,363.7 203.2,354.7 206.8,361.9 199.6,366.3"/>
<polygon points="481.8,92.5 483.8,88 486,92.5"/>
<polygon points="315.4,511.8 318.1,511.3 320.7,510.6 323.1,509.2 325.7,508.4 328.4,507.7 331,507.1 333.6,506.2 336.4,507.6 337.3,510.8 337.6,514.1 337.8,517.4 339.3,520.1 340.7,523 342,525.8 344.4,527.6 346.3,529.9 348,532.4 350.4,534.2 352.6,535.7 355,536.9 357.2,538.3 359.5,539.7 361.7,541.2 364.4,542.1 367.3,542.5 370,543.3 372.9,543.7 375.7,544 378.4,542.9 381.4,543 384,541.7 386.8,540.7 389.8,540.9 392.5,539.8 395.9,541 399.5,541.2 401,538.4 403.8,538.8 406.4,540.2 409.3,540.1 412,541.2 414.9,540.7 417.6,539.6 420.4,538.7 423.3,538.4 424.7,536.1 427,534.7 428.7,532.7 430.3,530.6 431.1,533.3 432.4,535.9 433.1,538.7 434.5,541.2 437.4,543.1 440,545.4 442.9,545.5 445.7,546.1 448.5,546.8 450.9,546.1 453.1,544.7 455.5,544 458,544.7 460.2,545.9 462.6,546.8 465.4,547 468.2,546.8 471,545.9 473.8,546 476.2,544.7 478.7,543.7 480.8,541.8 483.6,541.2 485.9,539.7 488.2,538.3 490.6,537 493.3,536 495.7,534.6 498,532.9 500.4,531.4 501,528.9 501.7,526.5 502.8,524.1 503.2,521.6 505.9,519.6 507.6,516.7 510.2,514.6 512.5,513.5 514.7,512.3 517.2,511.8 520.3,511.8 523.4,511.5 525.5,509.9 527.6,508.1 529.5,506.2 531.5,504.4 534.8,504.4 538,504 540.4,505.3 543.1,506.3 545.5,507.7 547.5,505.6 549.1,503.2 550.7,500.8 552.5,498.5 553.9,496 555.7,493.7 557.9,492.1 560,490.3 562.3,488.7 564.3,486.8 566.9,485.7 568.8,483.7 571,482 573.4,480.9 575.4,479.4 577.6,477.9 579.8,476.6 582,475.3 583.9,473.6 586,472 588.7,471.1 591.3,470.3 593.7,468.7 596.4,468 598.9,466.6 601.5,465.7 604.1,464.9 606.8,465 609.4,463.9 612.1,464.2 614.7,463.5 617.3,462.6 620,462.5 622.8,461.9 625.7,461.4 628.6,461.1 631.4,460.6 634.1,459.3 637,459 639.7,458.7 642.3,459.3 645,459 647.4,457.1 650.2,456 652.5,454 654.5,452.4 656.5,450.8 658.1,448.8 660,447 664,446 667.8,449 670.2,447.4 673,446.5 675.5,446.8 678,446.3 680.5,445.6 683,445.8 685.4,444.3 687.7,442.7 690,441 692.7,439.1 695.8,438 698.8,437.1 701.9,437.1 705,436.5 707.6,436.3 710.2,435.8 712.8,436.1 715.4,435.4 718,435.6 718.4,438.1 718.2,440.7 718.1,443.2 718.5,445.7 718.2,448.3 717.7,450.8 718,453.3 717.9,455.8 717.5,458.4 718.1,460.9 718.2,463.4 718.1,466 717.9,468.5 717.6,471 717.8,473.6 718.1,476.1 718.1,478.6 717.6,481.1 717.9,483.7 717.8,486.2 717.9,488.7 718.2,491.3 717.8,493.8 718.3,496.3 717.9,498.9 718.3,501.4 718,503.9 718.1,506.5 717.8,509 718.2,511.5 718.3,514 718.4,516.6 718.4,519.1 717.7,521.6 717.7,524.2 718,526.7 717.7,529.2 718.3,531.8 717.7,534.3 718.2,536.8 717.7,539.3 718.4,541.9 718.4,544.4 718.5,546.9 718.1,549.5 718,552 715.5,552.4 713,552.2 710.5,552.2 708,552.3 705.5,552.2 703,551.7 700.5,552.1 698,552.2 695.5,551.7 693,552.1 690.5,552 688,552.1 685.5,552.4 683,551.7 680.5,552.3 678,551.7 675.4,552.3 672.9,551.7 670.4,551.7 667.9,551.5 665.4,551.7 662.9,552 660.4,551.9 657.9,552.1 655.4,551.7 652.9,552.1 650.4,552.4 647.9,551.7 645.4,551.6 642.9,552 640.4,551.7 637.9,551.9 635.4,552.4 632.9,552 630.4,551.9 627.9,551.9 625.4,552.5 622.9,551.8 620.4,551.9 617.9,551.7 615.4,552.3 612.9,551.7 610.4,551.7 607.9,551.6 605.4,552.4 602.9,552.1 600.4,552.4 597.9,551.9 595.4,552.4 592.8,551.5 590.3,552.2 587.8,552.1 585.3,552 582.8,552.2 580.3,552.4 577.8,552.4 575.3,552 572.8,551.9 570.3,551.8 567.8,552.3 565.3,551.7 562.8,552.1 560.3,552.3 557.8,551.5 555.3,552.2 552.8,552 550.3,551.6 547.8,551.7 545.3,551.7 542.8,551.9 540.3,552.2 537.8,551.8 535.3,551.5 532.8,552.3 530.3,552.4 527.8,551.8 525.3,551.8 522.8,551.5 520.3,551.8 517.8,552.5 515.3,552.1 512.8,551.9 510.2,552.2 507.7,551.9 505.2,552 502.7,552 500.2,552 497.7,552.2 495.2,551.9 492.7,552.1 490.2,552.4 487.7,552.2 485.2,551.6 482.7,552.4 480.2,551.7 477.7,552.2 475.2,552.1 472.7,551.6 470.2,551.5 467.7,552 465.2,551.8 462.7,551.7 460.2,552.4 457.7,552.1 455.2,552 452.7,551.7 450.2,552.2 447.7,551.9 445.2,551.5 442.7,552.4 440.2,552.4 437.7,552.1 435.2,551.7 432.7,552.3 430.2,551.7 427.6,552 425.1,552.3 422.6,551.9 420.1,552.4 417.6,552.4 415.1,551.7 412.6,552.2 410.1,552.4 407.6,552.4 405.1,551.9 402.6,552 400.1,552.5 397.6,551.9 395.1,551.8 392.6,552.3 390.1,552.1 387.6,551.9 385.1,551.5 382.6,551.9 380.1,551.7 377.6,552.5 375.1,552.3 372.6,552.2 370.1,552.4 367.6,551.9 365.1,552.3 362.6,552.2 360.1,552.3 357.6,551.9 355.1,552.3 352.6,552.2 350.1,552.1 347.6,551.9 345,551.7 342.5,552.4 340,551.7 337.5,552.3 335,552.5 332.5,551.5 330,551.8 327.5,551.6 325,552.5 322.5,551.5 320,552.4 317.5,551.6 315,551.7 312.5,552.1 310,552.4 307.5,551.6 305,552 304.8,549.2 304.9,546.5 305.6,543.8 305.6,541 305.1,538.3 305.6,535.5 305.6,532.8 307.3,530.7 308.3,528.1 309.8,525.8 310.4,523.3 311.9,521.2 312.6,518.8 313.8,516.6 314.8,514.3"/>
<polyline points="267.4,132 266.9,136.1 265.6,140 263.7,142.4 262.5,145.3 260.4,147.6 258.5,150 257.7,153.5 258.3,157.2 257.6,160.7 257.1,165.1 257.6,169.6 255.8,173"/>
<polyline points="255.8,173 252.7,173.6 249.6,172.8 246.4,172.5 243.3,173 240.4,173.9 237.4,174.5 234.5,175.6 231.7,176.7 228,177.6 224.6,179.4"/>
<polyline points="255.8,173 257.3,176.5 257.6,180.3 256.7,185.6 253.1,185.7 249.5,185.7 246,186.5 241.6,188.3 242,192.3 242.5,196.3 244.5,198.8 247,200.8 245,205.3 241.7,206.3 238.4,207.2 235.3,208.8 232,209.5 229.3,211.7 226,212.3 222.8,213.3"/>
<polyline points="256.7,185.6 259.7,188 262,191 264.8,192.6 267.4,194.6 270.3,193.9 273.3,193.2 276.3,192.8 280.8,196.3 283.5,191.9 287,191.2 290.6,191 293.3,194.1 296,197.2 296.6,200.3 296,203.5"/>
<polyline points="288.8,142.8 285.8,146.2 283.5,150 285.4,153.3 288.7,155.6 290.6,158.9 293.1,161.3 296,163.3 293.4,165.7 290.6,167.8 292.6,170.3 295,172.3 292.6,174.7 290.5,177.3 288.8,180.3 288,183.7 286.8,186.9 285.3,190 290.6,191"/>
<polyline points="295,172.3 298.9,172.5 302.8,171.2 306.7,171.4 310.2,166.9 314.6,167.6 319,166.9 322.1,167.5 325,168.6 328,169.6 331.5,168.3 335.2,167.8 340,167.8 343.5,166.1 347,164.6 350.7,163.3 354,160.8 357.8,158.9 363.2,160.7 366.1,159.1 368.8,157.2 372,156.2 372,152.6"/>
<polyline points="245,205.3 248.7,209.8 245.9,212.1 244.2,215.2 246,219.6 248.8,218.2 252.1,218.2 255,217 258,217.3 261,218 263.9,218.7 267.4,219.8 271,220.5 274.1,219.1 277.2,217.9 280,216 283,215.3 286,215.2 287,210.7 289.3,207.3 292.4,204.5 296,202.7"/>
<polyline points="296,202.7 299,203.6 302,204.4 304.9,205.4 308.1,206.2 311.4,206.7 314.6,207.4 317.7,208.4 321,209 324.6,209.5 328.1,210.1 331.7,210.9 335.2,211.6 338.2,213.4 340.5,216 343.6,217.7"/>
<polyline points="286,215.2 289,215.8 292.2,215.5 295.2,216.1 298.2,216.9 301.3,217 301.5,220.8 302.2,224.6 302.2,228.5 305,229.6 307.6,231.2 310,233.4 313,234.8 311.1,237.7 309.7,240.9 307.6,243.7 304.6,246.2 300.8,247.6 297.7,250 294.9,253.4 292.4,257 289.6,258.1 287,259.7 288.9,263.6 289.7,267.8 290.5,271.3 290.1,275 290.6,278.5 289.8,282.1 288.8,285.6 289.9,289.1 290.6,292.7 288,297.2 284.9,297.7 281.7,297.2"/>
<polyline points="307.6,243.7 310.3,245.2 312,247.9 314.2,249.8 316.5,251.8 319,253.5 322.7,253.5 326.1,251.6 329.8,251.7 333.5,252.4 337,253.9 340.5,255.3 345.4,256.9 349.9,256.6 354.3,256.9 357.9,257 361.4,257.4 365,257.8"/>
<polyline points="288,297.2 291.6,295.7 294.5,293.2 297.7,291 300.9,290 303.8,288.3 307.3,288.3 310.2,286.5 313,289.3 315.6,292.4 319,294.5 322.1,294.2 325,295.4 328,295.4 328.9,292.2 329.8,289 333.5,287.5 337,285.6 339,282.2 340.5,278.5 343,276 346.5,274.7 348.9,272 349.3,267.5 350.7,263.2 348.3,259.9 345.4,256.9"/>
<polyline points="363.2,160.7 361.4,166 365,169.6 362.2,173.1 359.6,176.7 359.5,179.9 359.9,183.2 359.6,186.4 359.6,189.6 358.3,192.8 358.6,196 356.4,199.5 354,202.8 354.8,205.9 355.7,209 355.9,212.2 356.3,215.4 359.6,217.9 362,221.2 365.4,222.7 368.7,224.6 372.3,225.8 375.8,226.8 379.2,228 382.3,227.4 385.3,226.5 388.4,225.8"/>
<polyline points="354,202.8 351.4,204.6 348.5,205.6 345.6,206.8 342.5,207.4 343.3,210.8 342.6,214.3 343.6,217.7 343.2,221.1 343,224.6 342.5,228 343.7,230.8 344.9,233.6 346.2,236.4 345.2,239.3 344,242.2 343.6,245.3 342.9,249.4 341.8,253.3 345.4,256.9"/>
<polyline points="365,169.6 368.6,169.3 372,167.7 375.7,167.8 378.3,169.6 381,171.4 382.6,174.6 384.6,177.6 387.2,179.2 390,180.3 392.9,178.9 395.3,176.7 394,173.7 391.7,171.4 394.5,169.8 397,167.8 399.9,165.3 402.4,162.5 406,162.7 409.6,163.3 411.3,158 414.8,155.5 418.5,153.5"/>
<polyline points="384.6,177.6 382.6,180.2 381.3,183.1 379.2,185.6 378.7,189.2 379.9,192.7 379.2,196.3 380.1,199.2 381.5,202 381.8,205.1 384,207.5 384.6,210.6 387.3,212.7 389.7,215 391.7,217.7 390.4,221.9 388.4,225.8 388.8,228.9 390.5,231.8 390.7,235 393.8,237.6 397,240"/>
<polyline points="409.6,163.3 414,162.5 418.5,162.5 421.1,164.4 423.8,166 420.9,167.4 418.5,169.6 423.8,171.4 420.3,174.1 416.7,176.7 419.5,178.3 422,180.3 423.4,183.2 425.6,185.6 429.2,187.4 432.4,190.6 436.3,192.8 439.9,193.2 443.4,194 447,194.6 449.9,195.6 452.8,196.6 455.8,197.2 458.5,198.8 461.3,200 463.9,201.8 465.4,204.8 468.2,206.4 470.2,208.8 469.1,211.7 469.2,214.8 468.4,217.7 472.6,217.9 476.9,218 479.1,214.5 481.5,211.2 481.4,207.2 479.6,203.6 479.2,199.7 481.4,197.1 482.8,194.1 484.8,191.4 486,188.2 489.5,187 493,185.9"/>
<polyline points="443.4,154.4 441.1,157.2 439.9,160.7 439.4,164.4 438,167.8"/>
<polyline points="423.8,166 426.9,166.5 429.8,167.5 432.7,168.7 438,167.8 441.8,168.9 445.5,170.2 448.8,172.3 452.2,170.8 456,170.5 457.2,166.9 459.7,164 461.3,160.7 464.8,157 466,154 468.4,151.8"/>
<polyline points="448.8,172.3 448.4,176.2 447.4,180 447,183.9 444.2,185.9 441.7,188.3 438.6,190.1 436.3,192.8"/>
<polyline points="422,187.4 421.2,190.5 421.5,193.7 421.1,196.9 420.3,200 421.5,203.4 421.1,207.1 422,210.6 426,212.8 429.2,216 426.9,218.3 425.6,221.3 423.8,220.4 420.5,221.6 417.6,223.4 415,225.7 413,231 410.5,233.8 407.8,236.4 402.4,237.3 399.6,238.4 397,240"/>
<polyline points="429.2,216 432.7,214.9 436.4,215.2 439.9,214.2 443.6,211.7 447,208.8 450.5,210.7 454.1,212.6 457.7,214.2 461.4,216.7 464.8,219.6 468.4,217.7"/>
<polyline points="468.4,151.8 470,156 471.9,158.7 474.2,161.1 476.9,163 480.4,164.1 483.8,165.3 486.7,167 489.9,167.6 493,168.7 496.3,169.7 499.8,169.8 501.7,173.1 504.4,175.6 508.2,176.3 512,177 515.9,176.7 519.2,177.4 522.2,178.5 525.1,180.2 528.8,178.8 532.9,179.3 536.6,177.9 539.2,179.6 542.1,180.7 544.9,181.9 548,182.5 548.3,178.7 548.5,174.8 549.2,171 552.5,171 555.4,172.6 558.5,173.3 561.8,173.3 564.9,174.4 567.8,176 571,176.7 573.8,179 575.5,182.2 577.9,184.8 581.4,185.1 584.8,185.9 586.7,183.2 589.4,181.3 592.2,183.4 595.3,184.8 598.6,185.9 601.7,186.2 604.6,184.7 607.7,184.8 610.6,184 613.5,183.4 616.3,181.9 619.2,181.3 623,180.7 626.9,180.6 630.7,180.2 634.4,181.4 637.6,183.6 639.9,187"/>
<polyline points="499.8,169.8 498.3,172.9 496.4,175.8 495.3,179 494.4,182.5 493,185.9 495.2,189 497.3,192.2 499.8,195.1 498.1,198.4 497.5,202 498.8,205.7 501,208.9 498.7,213.5 501.4,215 504.1,216.6 506.5,218.5 509,220.3 511.9,223.4 513.6,227.2 516.9,228.3 520,229.8 522.8,231.8 524,235 526.3,237.7 527.4,241"/>
<polyline points="549.2,171 550.1,174.7 549.2,178.5 549.9,182.2 550.4,185.9 551,189.3 550.4,192.8 551.8,196.2 551.5,199.7 551,203.5 551.1,207.4 550.4,211.2 548.3,213.9 546.7,217 545.8,220.3 543.9,223.2 542.3,226.2 541.2,229.5 542,232.9 542.3,236.4 541.2,241"/>
<polyline points="527.4,241 531.1,240.5 534.3,238.7 537.9,239.5 541.2,241 543.5,245.6 541.1,247.8 538.9,250.2 539.2,253.6 540,257 543.9,258.4 548,259.4 550.9,261.6 554.2,263.2 557.2,265.1 561.8,268.6"/>
<polyline points="584.8,185.9 586,188.9 586.9,191.9 587,195.1 587.1,199 587,202.8 586,206.6 584.7,209.6 583.3,212.6 582.5,215.8 577.9,219.2 578.7,222.6 579.3,226 579,229.5 580.6,232.1 582.8,234.2 584.8,236.4 586.3,239.9 588.2,243.3"/>
<polyline points="543.5,245.6 546.6,245 548.9,242.7 552.2,242.5 554.9,241 557.9,240.2 560.8,239.2 563.3,237 566.4,236.4 569,233.1 571,229.5 575,229.4 579,229.5"/>
<polyline points="589.4,181.3 590.6,184.3 591.9,187.2 594,189.8 595.1,192.8 597.4,197.4 601,197.5 604.4,198.3 607.7,199.7 610.9,201.6 613.5,204.3 612.3,208 610,211.2 613.2,213.9 616.9,215.8 619.9,214.8 622.9,213.7 626.1,213.5 630.7,211.2"/>
<polyline points="527.4,241 524.6,242.8 522.8,245.6 519.5,247.1 515.9,247.9 513.7,245.5 511.3,243.3 507.9,247.9 505.1,249.2 502.4,250.8 499.8,252.5 496.3,253.3 493,254.8 489.9,254.8 486.9,254.1 483.8,254.8 481.2,258.1 479.2,261.7 475.7,264.3 471.9,263.3 468.4,261.8 465,259.8 461.3,258.5 457.8,257 456,257.8"/>
<polyline points="456,257.8 454.7,254.3 454,250.7 455.8,248 456.4,244.8 457.7,241.8 463,240 461.3,234.6 463.5,231.5 466.6,229.3 465.9,225.7 465.3,222.2 464.8,218.6"/>
<polyline points="397,240 393.5,240.7 390,241.3 386.4,241.8 383.2,242 380.2,243.4 376.9,243.4 373.9,244.4 371.3,247.7 368.5,250.7 366.8,254.3 365,257.8 367.2,260.5 368.1,264 370.3,266.7 372.2,270.3 373.9,273.9 375.7,279.2 379.2,279.8 382.8,279.2 384.9,276.4 386.8,273.5 389.4,271.1 391.7,268.5 394.6,266.6 396.3,263.6 398.9,261.4 402.5,259.2 406,256.9 408.3,253.9 411.3,251.6 416.7,249.8"/>
<polyline points="407.8,236.4 410,239.7 411.3,243.5 413.5,247 416.7,249.8 420.2,249.2 423.9,249.9 427.4,248.9 430.8,250.4 434.5,251.2 438,252.5 440.8,255.1 444.1,257.1 447,259.6 450.1,259.4 453,258.3 456,257.8"/>
<polyline points="406,256.9 408.2,259.2 410.5,261.4 409.7,264.9 409.7,268.5 408.7,272 409.8,275.7 411.3,279.2 413.8,281.5 416.2,283.8 418.5,286.3 419.8,289.3 421.1,292.2 422,295.3 422.7,298.9 423.8,302.4"/>
<polyline points="423.8,302.4 427.3,301.1 431,300.6 431.5,296.8 432.8,293.3 434.5,289.9 437.6,289 440.2,286.9 443.4,286.3 447.2,284 450.7,281.2 454.2,280.2 457.8,279.4 461.6,280.2 465,282 467,284.4 468.4,287.1 469.4,290 473,287.5 472,283 475.7,280.3 476.7,276.8 477.5,273.2 477.4,270.1 475.7,267.4 475.7,264.3"/>
<polyline points="382.8,279.2 380.3,282.6 378.3,286.3 377.5,291.7 374.5,293.7 371.2,295.3 367.3,297.4 363.2,298.8 360,299.9 357.1,301.4 354.3,303.3 348.9,302.4 344.6,301.5 340.3,300.4"/>
<polyline points="371.2,295.3 374.3,296.4 377.5,297 381.2,297.9 384.9,298.6 387.6,300.3 390.9,300.7 393.8,302 396.8,303.1 399.7,304.6 402.7,305.7 404.5,308.4 401.5,310.5 398.7,312.7 395.6,314.6 399.5,313.4 402.7,311 406.3,309.3 409.9,308.4 413.4,307.5 417,307.3 420.6,307.5 421.9,304.5 424,302"/>
<polyline points="469.4,290 471.9,292.6 475.1,294.5 477.5,297.3 480.2,299.5 482.8,301.7 487.3,299 490.7,300.8 493.5,303.5 497,304.4 500.9,306.1 504.2,308.9 507.8,307 510.4,303.5 513,300 516.7,295.5 519.7,292.6 523,290 522.7,286.9 522,283.9 520.8,280.4 520.3,276.8 522.6,273 525.6,269.6 529.1,270.7 532.7,271.4 538,270.5 541.7,266 541.5,263 540.5,260.1 540.8,257 540,257"/>
<polyline points="482.8,301.7 484.3,304.5 486.4,307 489.9,307.7 493.5,308 497,304.4"/>
<polyline points="538,270.5 541.3,273.2 545.2,275 548.4,276.6 551.5,278.5 554,276.8"/>
<polyline points="504.2,308.9 505.8,311.7 507.8,314.2 511,315.6 513.9,317.6 516.7,319.6 522,316.9 525.5,317.9 529.2,317.8"/>
<polyline points="493.5,308 493,312.1 491.7,316 490.2,319.7 488,323 484.9,325.3 482.8,328.5 481.5,331.9 481,335.6 482,338 484.8,340.2 488.3,341.4 491.3,343.3 492.6,347.1 494.8,350.4 496.6,353.9 499.2,355.7 501.3,358.1 503.3,360.5 504.2,363.7 504.6,367"/>
<polyline points="481,335.6 477.7,337.8 473.9,339.2 470.3,340.4 466.8,341.8 463.2,342.8 459.6,341 456.4,341.6 453.5,342.9 450.7,344.6 447.2,343.1 443.8,341.4 440.3,342.8 436.6,343.2"/>
<polyline points="281.7,297.2 283,300.7 284.2,304.2 286,307.5 285,310.5 283.6,313.4 282.6,316.4 280.7,319.5 279,322.6 276,323.1 273,322.9 270,322.1 267,323.2 264,323.1 261,322.6 262.8,325.4 264.9,328 267.2,330.5 269,333.3 269.4,337.5 271,341.4 273.7,339.3 276.3,337 279,336"/>
<polyline points="271,341.4 272.7,346.7 275.8,348.6 279,350.3 280,354.7 278.7,357.8 276.6,360.3 274.5,362.8 271.7,364.5 269,366.3 267.9,369.2 267.3,372.2 267.4,375.3 265.6,380.6 268.5,385 270.7,388.8 272,393 275.1,393 278.3,393 277,397 275.7,401 272.7,401.7 269.7,402.5 266.8,403.7 264.6,406.3 263.1,409.4 261.2,412.3 259.6,415.3 257.3,419.1 256,423.3 257.5,427.2 257.8,431.4 257.5,434.9 257.8,438.5 257.8,442"/>
<polyline points="279,336 283,336.8 287,337.8 287.5,341.5 288.8,345 292.3,346.5 296,347.6 299.5,347.4 303,347.6 305.5,349.8 307.8,352.3 310.2,354.7 315.4,352 319,351.9 322.5,351.2 325.9,349.5 329.6,348.5 333.2,347.9 336.8,348.5 339.9,345.8 342,342.3 345.7,342.5 349.2,341.4 352,340.3 354.6,338.7"/>
<polyline points="340.3,300.4 339.9,303.5 339.3,306.6 340.3,309.8 339.4,312.8 341.3,315.4 343.4,317.8 345.7,320 346.4,322.9 347.5,325.8 347.5,328.9 350,331.3 352,334.2 354.6,338.7 356.2,335 358.2,331.6 360.4,334.7 363.5,337 358.2,339.6 354.6,338.7"/>
<polyline points="363.5,337 367,334.2 370.6,331.6 373.6,332.8 376,335 379.5,335.1 383,335 384.9,330.7 389.4,332.5 387.2,335.2 384.9,337.8 385.8,341.4 388.8,342.7 392,343.2 397.4,345.8 400.3,344.8 403.3,344.1 406.3,343.2 410,341.2 413.4,338.7 416.9,336.6 420.6,335 423.5,336 426.5,336.4 429.5,337 434.8,339.6 436.6,343.2"/>
<polyline points="420.6,307.5 422.4,310.9 422.7,314.7 424,318.2 425,322 427.2,325.3 428.6,328.9 429.1,332.9 429.5,337"/>
<polyline points="363.5,337 363.3,340.2 363.5,343.5 362.6,346.7 366.2,350.3 362.6,351 359,352 356.8,354.7 354.6,357.4 359,361 355.5,365.4 353.4,367.9 352,370.8"/>
<polyline points="352,370.8 348.7,372.5 345.6,374.8 342,376 338.9,378.2 336.1,380.8 333.2,383.3 330.5,387.7 331,392 331,397.5"/>
<polyline points="352,370.8 355.2,372.9 358.8,374.4 361.7,377 364.5,379.1 367.6,380.6 370.6,382.4 374,385 377,388 380.6,387.2 384.2,387.5 387.8,387 390.8,387 393.8,386.5 396.8,387 399.8,386.5 402.7,385.7 405.7,385.4 409.3,385.2 412.9,385.4 416.4,384.5 420,384.5 423.5,383.9 427,383.6 430,382.7 433.1,382.2 436,381 439.5,381.1 443,381.8"/>
<polyline points="436.6,343.2 435.2,347 433,350.3 433.1,353.9 432.7,357.5 432.2,361 434.5,364.8 437.5,368 441,372.4 438.5,376.1 437,380.4 438.3,383"/>
<polyline points="278.3,393 281.4,394.6 284,396.8 286.4,399.3 289.6,401.7 293.5,402.8 298.9,402 301.7,404.1 304.9,405.4 307.8,407.3 310.5,405.2 313.9,404.6 316.7,402.8 317.9,399.8 320.3,397.5 325.6,396.6 327.4,399.3 331,397.5"/>
<polyline points="307.8,407.3 308.7,411.8 305.4,413.8 302.4,416.2 299,417.6 295.3,418 293.5,420.7 297,422.9 299.7,426 300.8,429.5 300.6,433.2 298,438.5 297.5,442.1 298.4,445.6 298.9,449.2 298.5,452.8 298.9,456.3 297.7,459.8 297,463.5"/>
<polyline points="331,397.5 332.7,400.4 333.2,403.9 335.2,406.8 336.3,410 337.7,414.2 339.9,418 336.3,422.5 339.9,424.2 343.2,422 347,420.7 352.4,419.8 354,422.9 354.5,426.4 356,429.6 358.2,432 359.3,435.1 361.3,437.6 364.8,442"/>
<polyline points="298.9,456.3 302.1,456.7 305.1,458.1 308.1,459.4 311.3,460 314.3,458.8 317.4,457.6 320.6,457 323.8,456.3 327.4,453.7 332.7,451.9 336.3,454.6 341.7,452.8 345.2,454.6 348.1,452.1 351.5,450.3 354.1,447.4 357.5,444.8 361.3,443 364.8,442 368.4,441.4 372,441.2 375.4,441.5 377,442.4 379.5,439.8 382.5,438 385.9,436.3 389.6,435.3"/>
<polyline points="345.2,454.6 347,460 343.7,461.5 340.8,463.5 339.9,468.8 336.4,471.6 332.7,474.2 327.4,476.8 330.8,478.5 334.5,479.6 334.8,483 336.3,486"/>
<polyline points="375.4,441.5 376.6,445.4 379,448.7 380.7,453 383.9,456.2 387.8,458.5 390.9,459.3 393.6,461.5 396.8,462 399.4,466.5"/>
<polyline points="377,388 379.6,389.6 382.5,390.7 382.1,395.1 382.5,399.6 380.1,402.9 379,406.8 380,410.3 380.9,413.9 381.6,417.5 383,420.3 384,423.2 384.3,426.4 386.7,429 387.5,432.5 389.6,435.3 393.4,434.4 396.8,432.6 399.6,430 402.7,427.8 405.7,425.5 411,424.6 414.6,424.9 418.1,424.9 421.7,424.6 424.8,424.4 427.7,423.9 430.6,422.8 432.5,419.9 433.3,416.6 434.6,413.9 436,411.2 439.6,409.2 443,406.8 445,402.3"/>
<polyline points="443,381.8 444.4,384.5 446.5,386.7 448.5,389 448.7,392.6 447.6,396 446.2,399.1 445,402.3 448,403.3 451.1,404.2 453.8,405.9 457.4,410.3 461.9,410.4 466.3,411.2 466,415.2 466.3,419.2 468.3,422.7 469.9,426.4 473.6,428.9 477,431.7 481.5,432.6"/>
<polyline points="457.4,410.3 456,414.5 453.8,418.3 452.6,422.3 452,426.4 449,428.7 446.1,431.3 443,433.5 441.9,436.4 441.5,439.4 441.3,442.4 436,440.6 433.3,443 431.5,446 428.9,449.6 428.3,454.1 428.9,458.5 427.9,462.2 426.2,465.6"/>
<polyline points="445,402.3 448.2,402.1 451,400.5 454.1,400 457,398.9 460,397.6 461.9,394.8 465,393.6 467.1,391.1 470,389.7 473,389.1 476.1,388.6 479,387.8 482,387 482.7,383.9 484.4,381.1 485,378 486,375 488.3,372.3 491.2,370.5 494,368.4 498.2,370 502,372.4 504.6,367 507.9,366.3 511.2,366.1 514.5,365.5 517.9,365.8 521.7,364.6 525,362.4 528.5,360.5 532.1,360.5 535.5,359.9 539,359.2 542.4,360.8 546,362"/>
<polyline points="502,372.4 502,375.8 501.5,379.1 501.4,382.4 500.6,385.7 501.5,389 502.5,392.3 503.7,395.6 504.6,398.9 507,401.3 508.1,404.5 510.7,406.8 512.6,409.5 513,413.1 514.3,416.5 515.2,420"/>
</g>
<rect x="168" y="533" width="161.5" height="18.5" fill="#FFFFFF"/>
<rect x="630" y="505.7" width="88" height="46" fill="#FFFFFF"/>
<g fill="none" stroke-linecap="round" stroke-linejoin="round">
<path d="M634.8 536.8 C638 531 644 519 648 511.8 C649.3 520 650.6 530 651.6 536.8" stroke="#22308E" stroke-width="2"/>
<path d="M636.8 534.2 C641 528 650 524.3 658 523.6 C661 523.3 664.5 523.2 666.8 523.2" stroke="#F2D21E" stroke-width="2"/>
<path d="M660 523.4 L666.8 523.2" stroke="#F08A1E" stroke-width="1.8"/>
<path d="M676 512.8 C670 513.2 664 513.6 659.6 514.2 C659.3 521 659 529 658.9 536.2 C663 536 667 535.6 671 535" stroke="#D2301E" stroke-width="2"/>
<path d="M671.2 530.6 C673 526 675 522 676 519.2 C677 523 678 528 678.6 531.6 C680.5 527 683 522.5 684.9 519.2 C685.4 524 685.6 529 686 532.8 C686.6 534 687.8 534.5 689 534.2" stroke="#3050B0" stroke-width="1.7"/>
<path d="M690.6 529.6 C693 529.6 696.5 528 696.8 525.6 C697 523.6 694.5 523.2 692.8 524.8 C690.6 527 689.8 531.5 691.6 533.6 C693.3 535.2 696.4 534.2 698.2 532" stroke="#3A5CB0" stroke-width="1.6"/>
<path d="M706.4 514.2 C704.6 521 702.6 529 701.6 534.6 C701.6 536.6 703.4 537 705 535.8" stroke="#3E5CA4" stroke-width="1.7"/>
<path d="M696.4 518 C702 517.8 708 518.4 713 519" stroke="#3E5CA4" stroke-width="1.6"/>
</g>
<circle cx="177" cy="541.8" r="5.3" fill="none" stroke="#4A78C0" stroke-width="1"/>
<path d="M179.3 539.9 A3 3 0 1 0 179.3 543.7" fill="none" stroke="#4A78C0" stroke-width="1"/>
</g>
<rect x="167.5" y="72.5" width="550" height="479" fill="none" stroke="#000" stroke-width="1"/>
<path d="M546.5 558.5 l2 -2.2 l2.5 -0.6 l2 0.4 l-1.5 1.6 l-2.5 0.3 z" fill="#F6EC9A"/>
<rect x="722" y="81.00" width="18" height="14.78" fill="#8B3A10"/>
<rect x="722" y="95.48" width="18" height="14.78" fill="#A03030"/>
<rect x="722" y="109.96" width="18" height="14.78" fill="#B03050"/>
<rect x="722" y="124.44" width="18" height="14.78" fill="#C83070"/>
<rect x="722" y="138.92" width="18" height="14.78" fill="#E03090"/>
<rect x="722" y="153.40" width="18" height="14.78" fill="#FF30B8"/>
<rect x="722" y="167.88" width="18" height="14.78" fill="#FF0000"/>
<rect x="722" y="182.36" width="18" height="14.78" fill="#FF7800"/>
<rect x="722" y="196.84" width="18" height="14.78" fill="#FF9800"/>
<rect x="722" y="211.32" width="18" height="14.78" fill="#FFB800"/>
<rect x="722" y="225.80" width="18" height="14.78" fill="#FFD800"/>
<rect x="722" y="240.28" width="18" height="14.78" fill="#FFFF00"/>
<rect x="722" y="254.76" width="18" height="14.78" fill="#C8F000"/>
<rect x="722" y="269.24" width="18" height="14.78" fill="#60F060"/>
<rect x="722" y="283.72" width="18" height="14.78" fill="#20A8A0"/>
<rect x="722" y="298.20" width="18" height="14.78" fill="#18C0B8"/>
<rect x="722" y="312.68" width="18" height="14.78" fill="#10D0C8"/>
<rect x="722" y="327.16" width="18" height="14.78" fill="#00E8E8"/>
<rect x="722" y="341.64" width="18" height="14.78" fill="#2090F8"/>
<rect x="722" y="356.12" width="18" height="14.78" fill="#1878E0"/>
<rect x="722" y="370.60" width="18" height="14.78" fill="#1060C0"/>
<rect x="722" y="385.08" width="18" height="14.78" fill="#0000D0"/>
<rect x="722" y="399.56" width="18" height="14.78" fill="#181878"/>
<rect x="722" y="428.30" width="18" height="14.70" fill="#E0C8F0"/>
<rect x="722" y="442.70" width="18" height="14.70" fill="#C8A0E8"/>
<rect x="722" y="457.10" width="18" height="14.70" fill="#A868E0"/>
<rect x="722" y="471.50" width="18" height="14.70" fill="#8A2BE2"/>
<rect x="722" y="485.90" width="18" height="14.70" fill="#C81E8C"/>
<rect x="722" y="500.30" width="18" height="14.70" fill="#B0248C"/>
<rect x="722" y="514.70" width="18" height="14.70" fill="#98308E"/>
<rect x="722" y="529.10" width="18" height="14.70" fill="#7E3A90"/>
</svg>
<div class="lb" style="top:74.0px">50</div>
<div class="lb" style="top:88.5px">44</div>
<div class="lb" style="top:103.0px">42</div>
<div class="lb" style="top:117.4px">40</div>
<div class="lb" style="top:131.9px">38</div>
<div class="lb" style="top:146.4px">36</div>
<div class="lb" style="top:160.9px">34</div>
<div class="lb" style="top:175.4px">32</div>
<div class="lb" style="top:189.8px">30</div>
<div class="lb" style="top:204.3px">28</div>
<div class="lb" style="top:218.8px">26</div>
<div class="lb" style="top:233.3px">24</div>
<div class="lb" style="top:247.8px">22</div>
<div class="lb" style="top:262.2px">20</div>
<div class="lb" style="top:276.7px">18</div>
<div class="lb" style="top:291.2px">16</div>
<div class="lb" style="top:305.7px">14</div>
<div class="lb" style="top:320.2px">12</div>
<div class="lb" style="top:334.6px">10</div>
<div class="lb" style="top:349.1px">8</div>
<div class="lb" style="top:363.6px">6</div>
<div class="lb" style="top:378.1px">4</div>
<div class="lb" style="top:392.6px">2</div>
<div class="lb" style="top:407.0px">0</div>
<div class="lb" style="top:421.5px">-2</div>
<div class="lb" style="top:435.9px">-4</div>
<div class="lb" style="top:450.4px">-6</div>
<div class="lb" style="top:464.9px">-8</div>
<div class="lb" style="top:479.3px">-10</div>
<div class="lb" style="top:493.8px">-15</div>
<div class="lb" style="top:508.2px">-20</div>
<div class="lb" style="top:522.6px">-25</div>
<div class="lb" style="top:537.1px">-30</div>
<div class="cp">Agencia Estatal de Meteorología</div>
<div class="lg">Agencia Estatal de Meteorología</div>
</body></html>
